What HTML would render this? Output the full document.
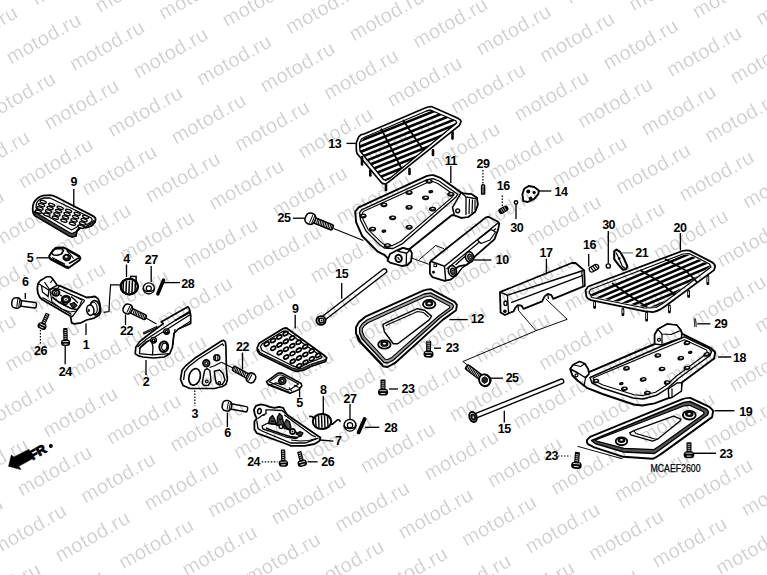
<!DOCTYPE html>
<html><head><meta charset="utf-8"><style>
html,body{margin:0;padding:0;background:#fff;}
svg{display:block;}
.lb{font-family:"Liberation Sans",sans-serif;font-weight:bold;font-size:12.5px;fill:#000;letter-spacing:-0.5px;}
.wm{font-family:"Liberation Sans",sans-serif;font-size:20px;letter-spacing:0.45px;fill:#cacaca;stroke:#fff;stroke-width:0.3px;mix-blend-mode:multiply;}
</style></head><body>
<svg width="767" height="575" viewBox="0 0 767 575">
<rect width="767" height="575" fill="#fff"/>
<path d="M32.7,208.8 C32.7,205 33.5,201 37.4,198.5 C39.5,196.5 41,195.8 43,195.6 L49.6,195.2 C52,195.4 54,196 56.2,197 L91.8,215.4 C94,216.5 95.6,217.5 95.6,219 L95.1,222 L91.8,225.7 L87,227.5 L80.6,227.6 L76.8,231.3 L75.9,236 L72.1,237 L69.3,236 L34.6,215.4 C33,214 32.7,212 32.7,208.8 Z" fill="#fff" stroke="#000" stroke-width="1.8" stroke-linejoin="round" />
<path d="M34,211.5 L69.5,232.5 L72,233.5 L75.5,232 L79,227.5 L86,226.5 L91.5,223 L94,220.5 L95.1,222 L91.8,225.7 L87,227.5 L80.6,227.6 L76.8,231.3 L75.9,236 L72.1,237 L69.3,236 L34.6,215.4 Z" fill="#444" stroke="#000" stroke-width="1.08" stroke-linejoin="round" />
<path d="M36,207 C36,203 37.5,200.5 40.5,199 L44,198 L50,198 L90.5,217.5 C92.5,218.8 92.5,220.5 91,222 L87.5,224.2 L80,225 L76,227.5 L71.5,230 L37,210 Z" fill="#fff" stroke="#000" stroke-width="1.32" stroke-linejoin="round" />
<ellipse cx="0" cy="0" rx="3.2" ry="1.3" transform="translate(43.2 201.8) rotate(19)" fill="#fff" stroke="#000" stroke-width="1.38"/>
<ellipse cx="0" cy="0" rx="3.2" ry="1.3" transform="translate(41.6 205.10000000000002) rotate(19)" fill="#fff" stroke="#000" stroke-width="1.38"/>
<ellipse cx="0" cy="0" rx="3.2" ry="1.3" transform="translate(40.0 208.4) rotate(19)" fill="#fff" stroke="#000" stroke-width="1.38"/>
<ellipse cx="0" cy="0" rx="3.2" ry="1.3" transform="translate(38.400000000000006 211.70000000000002) rotate(19)" fill="#fff" stroke="#000" stroke-width="1.38"/>
<ellipse cx="0" cy="0" rx="3.2" ry="1.3" transform="translate(51.7 204.8) rotate(19)" fill="#fff" stroke="#000" stroke-width="1.38"/>
<ellipse cx="0" cy="0" rx="3.2" ry="1.3" transform="translate(50.1 208.10000000000002) rotate(19)" fill="#fff" stroke="#000" stroke-width="1.38"/>
<ellipse cx="0" cy="0" rx="3.2" ry="1.3" transform="translate(48.5 211.4) rotate(19)" fill="#fff" stroke="#000" stroke-width="1.38"/>
<ellipse cx="0" cy="0" rx="3.2" ry="1.3" transform="translate(46.900000000000006 214.70000000000002) rotate(19)" fill="#fff" stroke="#000" stroke-width="1.38"/>
<ellipse cx="0" cy="0" rx="3.2" ry="1.3" transform="translate(60.2 207.8) rotate(19)" fill="#fff" stroke="#000" stroke-width="1.38"/>
<ellipse cx="0" cy="0" rx="3.2" ry="1.3" transform="translate(58.6 211.10000000000002) rotate(19)" fill="#fff" stroke="#000" stroke-width="1.38"/>
<ellipse cx="0" cy="0" rx="3.2" ry="1.3" transform="translate(57.0 214.4) rotate(19)" fill="#fff" stroke="#000" stroke-width="1.38"/>
<ellipse cx="0" cy="0" rx="3.2" ry="1.3" transform="translate(55.400000000000006 217.70000000000002) rotate(19)" fill="#fff" stroke="#000" stroke-width="1.38"/>
<ellipse cx="0" cy="0" rx="3.2" ry="1.3" transform="translate(68.7 210.8) rotate(19)" fill="#fff" stroke="#000" stroke-width="1.38"/>
<ellipse cx="0" cy="0" rx="3.2" ry="1.3" transform="translate(67.10000000000001 214.10000000000002) rotate(19)" fill="#fff" stroke="#000" stroke-width="1.38"/>
<ellipse cx="0" cy="0" rx="3.2" ry="1.3" transform="translate(65.5 217.4) rotate(19)" fill="#fff" stroke="#000" stroke-width="1.38"/>
<ellipse cx="0" cy="0" rx="3.2" ry="1.3" transform="translate(63.900000000000006 220.70000000000002) rotate(19)" fill="#fff" stroke="#000" stroke-width="1.38"/>
<ellipse cx="0" cy="0" rx="3.2" ry="1.3" transform="translate(77.2 213.8) rotate(19)" fill="#fff" stroke="#000" stroke-width="1.38"/>
<ellipse cx="0" cy="0" rx="3.2" ry="1.3" transform="translate(75.60000000000001 217.10000000000002) rotate(19)" fill="#fff" stroke="#000" stroke-width="1.38"/>
<ellipse cx="0" cy="0" rx="3.2" ry="1.3" transform="translate(74.0 220.4) rotate(19)" fill="#fff" stroke="#000" stroke-width="1.38"/>
<ellipse cx="0" cy="0" rx="3.2" ry="1.3" transform="translate(72.4 223.70000000000002) rotate(19)" fill="#fff" stroke="#000" stroke-width="1.38"/>
<ellipse cx="0" cy="0" rx="3.2" ry="1.3" transform="translate(85.7 216.8) rotate(19)" fill="#fff" stroke="#000" stroke-width="1.38"/>
<ellipse cx="0" cy="0" rx="3.2" ry="1.3" transform="translate(84.10000000000001 220.10000000000002) rotate(19)" fill="#fff" stroke="#000" stroke-width="1.38"/>
<ellipse cx="0" cy="0" rx="3.2" ry="1.3" transform="translate(82.5 223.4) rotate(19)" fill="#fff" stroke="#000" stroke-width="1.38"/>
<ellipse cx="0" cy="0" rx="3.2" ry="1.3" transform="translate(80.9 226.70000000000002) rotate(19)" fill="#fff" stroke="#000" stroke-width="1.38"/>
<line x1="73.8" y1="189" x2="73.8" y2="207.5" stroke="#000" stroke-width="1.32"/>
<text x="73.8" y="185.8" text-anchor="middle" class="lb">9</text>
<path d="M49.2,256.1 L52.9,250.3 L56,247.7 L63.3,247.5 L66.4,248.8 L79.4,256.1 L80.5,258.1 L79.4,260.2 L68.5,268 L65.9,267.5 L50.3,259.2 Z" fill="#fff" stroke="#000" stroke-width="1.92" stroke-linejoin="round" />
<path d="M51.5,253 L54.5,249.5 L57,248.8 L62,248.8 L63.5,250.5 L61.5,254 L57.5,255.3 L53.5,255 Z" fill="#fff" stroke="#000" stroke-width="1.56" stroke-linejoin="round" />
<path d="M53.5,251.5 L56,250 L59.5,250.2 L58,252.6 L55,252.8 Z" fill="#fff" stroke="#000" stroke-width="0.0" stroke-linejoin="round" />
<ellipse cx="0" cy="0" rx="3.6" ry="3.0" transform="translate(66.8 257.6) rotate(0)" fill="#222" stroke="#000" stroke-width="1.56"/>
<ellipse cx="0" cy="0" rx="1.3" ry="1.0" transform="translate(66.3 256.8) rotate(0)" fill="#fff" stroke="#000" stroke-width="0.0"/>
<polyline points="50.5,258.5 66,266.5 68.5,266.6" fill="none" stroke="#000" stroke-width="1.56"/>
<polyline points="52,257.5 65,264.3" fill="none" stroke="#000" stroke-width="1.32"/>
<polyline points="55.5,259.8 63,263.5" fill="none" stroke="#000" stroke-width="1.2"/>
<polyline points="66,249.5 79,257" fill="none" stroke="#000" stroke-width="1.32"/>
<polyline points="69,263.5 79.5,257.5" fill="none" stroke="#000" stroke-width="1.44"/>
<polyline points="67,251 70,254 73.5,258.5" fill="none" stroke="#000" stroke-width="1.2"/>
<line x1="36.5" y1="257.8" x2="49.5" y2="257.8" stroke="#000" stroke-width="1.32"/>
<text x="30" y="261.6" text-anchor="middle" class="lb">5</text>
<rect x="130.7" y="276.4" width="5.4" height="5.2" fill="#fff" stroke="#000" stroke-width="1.5"/>
<ellipse cx="0" cy="0" rx="8.6" ry="7.8" transform="translate(129.3 286.6) rotate(0)" fill="#fff" stroke="#000" stroke-width="2.04"/>
<line x1="123.5" y1="280.5" x2="122.9" y2="293" stroke="#000" stroke-width="1.5"/>
<line x1="126.5" y1="280.5" x2="125.9" y2="293" stroke="#000" stroke-width="1.5"/>
<line x1="129.5" y1="280.5" x2="128.9" y2="293" stroke="#000" stroke-width="1.5"/>
<line x1="132.5" y1="280.5" x2="131.9" y2="293" stroke="#000" stroke-width="1.5"/>
<line x1="135.5" y1="280.5" x2="134.9" y2="293" stroke="#000" stroke-width="1.5"/>
<ellipse cx="0" cy="0" rx="8.6" ry="7.8" transform="translate(129.3 286.6) rotate(0)" fill="none" stroke="#000" stroke-width="2.04"/>
<line x1="126.5" y1="264.5" x2="126.5" y2="277" stroke="#000" stroke-width="1.32"/>
<text x="126.5" y="262.8" text-anchor="middle" class="lb">4</text>
<polyline points="120,284.9 110.6,284.9 109.5,300 109,311.5 103.6,312.3" fill="none" stroke="#000" stroke-width="1.2"/>
<circle cx="148.8" cy="288.4" r="5.6" fill="#fff" stroke="#000" stroke-width="1.32"/>
<circle cx="148.8" cy="288.4" r="2.52" fill="#fff" stroke="#000" stroke-width="1.2"/>
<path d="M143.20000000000002,288.4 a5.6,3.08 0 0 0 11.2,0" fill="none" stroke="#000" stroke-width="1.6"/>
<line x1="151.2" y1="266" x2="151.2" y2="282" stroke="#000" stroke-width="1.32"/>
<text x="151.2" y="264.2" text-anchor="middle" class="lb">27</text>
<line x1="157.8" y1="294" x2="163.6" y2="280" stroke="#000" stroke-width="3.4" stroke-linecap="round"/>
<line x1="164" y1="282.6" x2="180" y2="282.6" stroke="#000" stroke-width="1.32"/>
<text x="187.7" y="287.7" text-anchor="middle" class="lb">28</text>
<g transform="translate(17.00 303.00) rotate(7.3)"><rect x="3.1" y="-2.75" width="16.4" height="5.5" rx="1.5" fill="#fff" stroke="#000" stroke-width="1.5"/><rect x="-5.2" y="-5.2" width="9.4" height="10.4" rx="4.2" fill="#fff" stroke="#000" stroke-width="1.6"/><line x1="0.3" y1="-3.9" x2="0.3" y2="3.9" stroke="#000" stroke-width="1.0"/><line x1="2.3" y1="-4.2" x2="2.3" y2="4.2" stroke="#000" stroke-width="1.0"/></g>
<line x1="25.3" y1="293" x2="25.3" y2="299" stroke="#000" stroke-width="1.32"/>
<text x="25.3" y="286.40000000000003" text-anchor="middle" class="lb">6</text>
<path d="M37.3,288.1 L38.2,283.4 L40.6,280.6 L47.1,276.8 L50.4,276.8 L52.8,279.2 L57,285.3 L59.4,285.7 L86.6,297.5 L91.3,297 L95,296.5 L97.8,298.4 C99.5,301 100.5,306 100.7,311.6 C100,313.5 99.5,314.5 98.8,315.3 L94.1,318.1 L86.6,320 L81,322.8 L74.4,323.8 L71.6,322.8 L70.6,316.3 L42.5,299.8 L39.6,297 L37.8,292.8 Z" fill="#fff" stroke="#000" stroke-width="1.8" stroke-linejoin="round" />
<path d="M38.2,283.4 L40.6,280.6 L47.1,276.8 L50.4,276.8 L52.8,279.2 L57,285.3 L48.5,290 L41.5,285.5 Z" fill="#fff" stroke="#000" stroke-width="1.32" stroke-linejoin="round" />
<polyline points="41.5,285.5 42.5,292 48,296.5 49,290" fill="none" stroke="#000" stroke-width="1.32"/>
<polyline points="44.5,282.2 49.5,289.5" fill="none" stroke="#000" stroke-width="1.2"/>
<polyline points="52.8,279.2 50.5,283" fill="none" stroke="#000" stroke-width="1.08"/>
<polyline points="42.5,297.5 71.5,314.5" fill="none" stroke="#000" stroke-width="1.2"/>
<polyline points="59.4,285.7 57.5,289 84.7,300.3" fill="none" stroke="#000" stroke-width="1.2"/>
<polyline points="84.7,300.3 72.5,316.3 70.6,316.3" fill="none" stroke="#000" stroke-width="1.32"/>
<path d="M50,290 L54,288 L60,289.5 L74,296 L82,300 L80,305 L76,311 L70,312 L62,309 L52,302 Z" fill="#fff" stroke="#000" stroke-width="1.2" stroke-linejoin="round" />
<ellipse cx="0" cy="0" rx="3.6" ry="3.0" transform="translate(55.8 292.8) rotate(0)" fill="#fff" stroke="#000" stroke-width="1.92"/>
<circle cx="55.8" cy="292.8" r="1.3" fill="#fff" stroke="#000" stroke-width="1.2"/>
<ellipse cx="0" cy="0" rx="4.4" ry="3.6" transform="translate(66 299.4) rotate(0)" fill="#222" stroke="#000" stroke-width="1.56"/>
<ellipse cx="0" cy="0" rx="2.0" ry="1.5" transform="translate(66 299.2) rotate(0)" fill="#fff" stroke="#000" stroke-width="0.0"/>
<circle cx="66" cy="299.2" r="0.8" fill="#000" stroke="#000" stroke-width="0.0"/>
<polyline points="52,297 58,301.5 64,305 71,308.5 77,309.5" fill="none" stroke="#000" stroke-width="1.68"/>
<polyline points="60,295 62,296" fill="none" stroke="#000" stroke-width="1.2"/>
<polyline points="71,296.5 75,300 78,303" fill="none" stroke="#000" stroke-width="1.44"/>
<polyline points="58.5,303 62,301.5 65,305 68,303.5" fill="none" stroke="#000" stroke-width="1.32"/>
<path d="M70,304 L74,302.5 L77,305.5 L73,308.5 Z" fill="#333" stroke="#000" stroke-width="1.2" stroke-linejoin="round" />
<ellipse cx="0" cy="0" rx="4.8" ry="7.2" transform="translate(95 307.8) rotate(-8)" fill="#fff" stroke="#000" stroke-width="1.68"/>
<ellipse cx="0" cy="0" rx="3.2" ry="5.8" transform="translate(94 308) rotate(-8)" fill="#fff" stroke="#000" stroke-width="1.08"/>
<ellipse cx="0" cy="0" rx="3.6" ry="5.2" transform="translate(90.3 310.2) rotate(-8)" fill="#fff" stroke="#000" stroke-width="1.56"/>
<path d="M88.2,308.8 L88.2,312.3 C90.5,312.3 90.5,308.8 88.2,308.8 Z" fill="#000"/>
<line x1="86" y1="323.5" x2="86" y2="335" stroke="#000" stroke-width="1.32"/>
<text x="86" y="348.5" text-anchor="middle" class="lb">1</text>
<g transform="translate(42.50 325.20) rotate(-65.6)"><rect x="1" y="-2.2" width="11.844454056128649" height="4.4" rx="0.8" fill="#000"/><line x1="3.2" y1="-1.1" x2="3.2" y2="1.1" stroke="#fff" stroke-width="0.75"/><line x1="5.2" y1="-1.1" x2="5.2" y2="1.1" stroke="#fff" stroke-width="0.75"/><line x1="7.2" y1="-1.1" x2="7.2" y2="1.1" stroke="#fff" stroke-width="0.75"/><line x1="9.2" y1="-1.1" x2="9.2" y2="1.1" stroke="#fff" stroke-width="0.75"/><line x1="11.2" y1="-1.1" x2="11.2" y2="1.1" stroke="#fff" stroke-width="0.75"/><rect x="-4.2" y="-4.6" width="6.4" height="9.1" rx="3.0" fill="#000"/><line x1="0.3" y1="-3.0" x2="0.3" y2="3.0" stroke="#fff" stroke-width="0.8"/><line x1="-2.3" y1="-2.1" x2="-2.3" y2="2.1" stroke="#fff" stroke-width="0.9"/></g>
<line x1="40.4" y1="330" x2="40.4" y2="343.5" stroke="#000" stroke-width="1.2" stroke-dasharray="1.5 1.5"/>
<text x="40.4" y="355.1" text-anchor="middle" class="lb">26</text>
<g transform="translate(65.60 341.80) rotate(-91.2)"><rect x="1" y="-2.2" width="12.80326048439282" height="4.4" rx="0.8" fill="#000"/><line x1="3.2" y1="-1.1" x2="3.2" y2="1.1" stroke="#fff" stroke-width="0.75"/><line x1="5.2" y1="-1.1" x2="5.2" y2="1.1" stroke="#fff" stroke-width="0.75"/><line x1="7.2" y1="-1.1" x2="7.2" y2="1.1" stroke="#fff" stroke-width="0.75"/><line x1="9.2" y1="-1.1" x2="9.2" y2="1.1" stroke="#fff" stroke-width="0.75"/><line x1="11.2" y1="-1.1" x2="11.2" y2="1.1" stroke="#fff" stroke-width="0.75"/><rect x="-4.2" y="-4.6" width="6.4" height="9.1" rx="3.0" fill="#000"/><line x1="0.3" y1="-3.0" x2="0.3" y2="3.0" stroke="#fff" stroke-width="0.8"/><line x1="-2.3" y1="-2.1" x2="-2.3" y2="2.1" stroke="#fff" stroke-width="0.9"/></g>
<line x1="65.2" y1="346" x2="65.2" y2="364.3" stroke="#000" stroke-width="1.32"/>
<text x="65.2" y="376.40000000000003" text-anchor="middle" class="lb">24</text>
<g transform="translate(128.20 309.20) rotate(25.8)"><rect x="2.9" y="-2.5" width="16.8" height="5" rx="1.5" fill="#fff" stroke="#000" stroke-width="1.5"/><line x1="5.9" y1="-2.0" x2="6.5" y2="2.0" stroke="#000" stroke-width="1.05"/><line x1="7.7" y1="-2.0" x2="8.3" y2="2.0" stroke="#000" stroke-width="1.05"/><line x1="9.4" y1="-2.0" x2="10.0" y2="2.0" stroke="#000" stroke-width="1.05"/><line x1="11.2" y1="-2.0" x2="11.8" y2="2.0" stroke="#000" stroke-width="1.05"/><line x1="12.9" y1="-2.0" x2="13.5" y2="2.0" stroke="#000" stroke-width="1.05"/><line x1="14.7" y1="-2.0" x2="15.3" y2="2.0" stroke="#000" stroke-width="1.05"/><line x1="16.4" y1="-2.0" x2="17.0" y2="2.0" stroke="#000" stroke-width="1.05"/><line x1="18.2" y1="-2.0" x2="18.8" y2="2.0" stroke="#000" stroke-width="1.05"/><rect x="-4.9" y="-4.9" width="8.8" height="9.8" rx="3.9" fill="#fff" stroke="#000" stroke-width="1.6"/><line x1="0.2" y1="-3.7" x2="0.2" y2="3.7" stroke="#000" stroke-width="1.0"/><line x1="2.2" y1="-3.9" x2="2.2" y2="3.9" stroke="#000" stroke-width="1.0"/></g>
<line x1="146" y1="318" x2="156.5" y2="324" stroke="#000" stroke-width="1.08"/>
<line x1="125.5" y1="314.5" x2="125.5" y2="325" stroke="#000" stroke-width="1.32"/>
<text x="126.5" y="334.8" text-anchor="middle" class="lb">22</text>
<path d="M135.2,353.7 L135.8,347.3 L139.5,341.9 L146,336.5 L163.3,323.6 L161.1,321.9 L177.3,312.8 L188,306.8 L189.2,308.5 L190.7,314.9 L190.7,323.6 L178.3,329 L174,333.3 L172.4,347.3 L169.7,353.7 L164.3,357 L153.6,358 L142.8,357 L138.5,355.9 Z" fill="#fff" stroke="#000" stroke-width="1.68" stroke-linejoin="round" />
<path d="M139.5,353.7 L140.1,347.3 L146,341.9 L151.4,339.7 L153,347.3 L152.5,354.8 Z" fill="#fff" stroke="#000" stroke-width="1.32" stroke-linejoin="round" />
<polyline points="137.5,347 146,339.5 165,327 190,311" fill="none" stroke="#000" stroke-width="1.32"/>
<polyline points="139,349 147,342 166,330 190.5,314.5" fill="none" stroke="#000" stroke-width="1.32"/>
<polyline points="175,320.5 190.5,312" fill="none" stroke="#000" stroke-width="1.92"/>
<polyline points="178.3,329 190.7,321" fill="none" stroke="#000" stroke-width="1.2"/>
<polygon points="143.5,332.7 156.8,326.6 157.3,327.8 144,334" fill="#fff" stroke="#000" stroke-width="1.1"/>
<ellipse cx="0" cy="0" rx="4.4" ry="5.3" transform="translate(163.8 346.8) rotate(10)" fill="#fff" stroke="#000" stroke-width="2.04"/>
<ellipse cx="0" cy="0" rx="2.6" ry="3.6" transform="translate(164.3 346.8) rotate(10)" fill="#fff" stroke="#000" stroke-width="1.2"/>
<circle cx="153.6" cy="340.3" r="2.8" fill="#fff" stroke="#000" stroke-width="1.32"/>
<circle cx="153.6" cy="340.3" r="1.26" fill="#fff" stroke="#000" stroke-width="1.2"/>
<path d="M150.79999999999998,340.3 a2.8,1.54 0 0 0 5.6,0" fill="none" stroke="#000" stroke-width="1.6"/>
<circle cx="166.5" cy="331.6" r="2.8" fill="#fff" stroke="#000" stroke-width="1.32"/>
<circle cx="166.5" cy="331.6" r="1.26" fill="#fff" stroke="#000" stroke-width="1.2"/>
<path d="M163.7,331.6 a2.8,1.54 0 0 0 5.6,0" fill="none" stroke="#000" stroke-width="1.6"/>
<polyline points="175.1,329 173.6,337 172.9,345.1" fill="none" stroke="#000" stroke-width="1.2"/>
<polyline points="152.5,354.8 169.7,353.7" fill="none" stroke="#000" stroke-width="1.2"/>
<line x1="146" y1="360" x2="146" y2="375" stroke="#000" stroke-width="1.32"/>
<text x="146.1" y="386.40000000000003" text-anchor="middle" class="lb">2</text>
<path d="M180.5,379.4 L182,370.3 L186.1,365.3 L196.2,357.2 L221.4,341 C222.3,340.5 223.2,340.3 223.9,340.5 L225.4,342.1 L225.9,346.1 L226.4,369.3 L227.4,379.4 L225.9,384.4 L222.4,386.5 L214.3,388.5 L190.1,388.5 L183,385.4 Z" fill="#fff" stroke="#000" stroke-width="1.68" stroke-linejoin="round" />
<polyline points="183.6,380 184.8,371.5 188.5,366.8 198,359.2 222.5,343.8 224,346" fill="none" stroke="#000" stroke-width="1.32"/>
<ellipse cx="0" cy="0" rx="5.6" ry="8.4" transform="translate(194.6 376.9) rotate(15)" fill="#fff" stroke="#000" stroke-width="1.68"/>
<path d="M204.7,370.3 L203.5,376 L202.2,383.4 L204,385.5 L208.3,385.4 L211,381 L210.5,376 L209.8,370.5 L207,368.5 Z" fill="#fff" stroke="#000" stroke-width="1.44" stroke-linejoin="round" />
<path d="M214.3,371.3 L215,377 L216.3,383.4 L219,385 L222.4,384.4 L225,380 L223,373.5 L219.5,370 Z" fill="#fff" stroke="#000" stroke-width="1.44" stroke-linejoin="round" />
<circle cx="206.8" cy="381.4" r="1.3" fill="#fff" stroke="#000" stroke-width="1.2"/>
<circle cx="219.4" cy="382.9" r="1.3" fill="#fff" stroke="#000" stroke-width="1.2"/>
<circle cx="206.3" cy="363.2" r="3.4" fill="#555" stroke="#000" stroke-width="1.56"/>
<circle cx="206.3" cy="363.2" r="1.3" fill="#fff" stroke="#000" stroke-width="0.96"/>
<circle cx="216.8" cy="357.7" r="3.0" fill="#fff" stroke="#000" stroke-width="1.56"/>
<polyline points="215.6,355.5 215.6,360" fill="none" stroke="#000" stroke-width="1.08"/>
<polyline points="217.8,355 217.8,360" fill="none" stroke="#000" stroke-width="1.08"/>
<polyline points="209.5,367.5 214,366 221.4,362.2" fill="none" stroke="#000" stroke-width="1.2"/>
<line x1="194.8" y1="390.5" x2="194.8" y2="406" stroke="#000" stroke-width="1.2" stroke-dasharray="1.5 1.5"/>
<text x="194.8" y="418.40000000000003" text-anchor="middle" class="lb">3</text>
<g transform="translate(250.50 377.60) rotate(-151.3)"><rect x="2.9" y="-2.5" width="17.0" height="5" rx="1.5" fill="#fff" stroke="#000" stroke-width="1.5"/><line x1="5.9" y1="-2.0" x2="6.5" y2="2.0" stroke="#000" stroke-width="1.05"/><line x1="7.7" y1="-2.0" x2="8.3" y2="2.0" stroke="#000" stroke-width="1.05"/><line x1="9.4" y1="-2.0" x2="10.0" y2="2.0" stroke="#000" stroke-width="1.05"/><line x1="11.2" y1="-2.0" x2="11.8" y2="2.0" stroke="#000" stroke-width="1.05"/><line x1="12.9" y1="-2.0" x2="13.5" y2="2.0" stroke="#000" stroke-width="1.05"/><line x1="14.7" y1="-2.0" x2="15.3" y2="2.0" stroke="#000" stroke-width="1.05"/><line x1="16.4" y1="-2.0" x2="17.0" y2="2.0" stroke="#000" stroke-width="1.05"/><line x1="18.2" y1="-2.0" x2="18.8" y2="2.0" stroke="#000" stroke-width="1.05"/><rect x="-4.9" y="-4.9" width="8.8" height="9.8" rx="3.9" fill="#fff" stroke="#000" stroke-width="1.6"/><line x1="0.2" y1="-3.7" x2="0.2" y2="3.7" stroke="#000" stroke-width="1.0"/><line x1="2.2" y1="-3.9" x2="2.2" y2="3.9" stroke="#000" stroke-width="1.0"/></g>
<polyline points="233,368 221.4,362.2" fill="none" stroke="#000" stroke-width="1.08"/>
<line x1="242.5" y1="352.6" x2="242.5" y2="369.5" stroke="#000" stroke-width="1.32"/>
<text x="242.5" y="350.6" text-anchor="middle" class="lb">22</text>
<path d="M257.3,347.5 L259.1,343.3 L282.9,328.7 C284,328.2 285.5,328 286.5,328 L324.3,355.5 L326.7,357.9 L325.5,361.5 L310.9,366.4 L303.6,370.1 L296.3,371.3 L292.6,370.1 L259.7,354.2 L257.3,350.6 Z" fill="#fff" stroke="#000" stroke-width="1.8" stroke-linejoin="round" />
<path d="M258,349 L260,352.5 L292.6,368 L296.3,369 L303,368 L310.5,364.3 L325.5,359.5 L326.7,357.9 L325.5,361.5 L310.9,366.4 L303.6,370.1 L296.3,371.3 L292.6,370.1 L259.7,354.2 Z" fill="#444" stroke="#000" stroke-width="0.96" stroke-linejoin="round" />
<path d="M260.5,346.5 L262,344 L282.5,331.5 L285.5,331 L322,356.8 L321,358.2 L309.5,362.5 L302.5,366 L296,367 L293,366 L262,350.5 Z" fill="#fff" stroke="#000" stroke-width="1.32" stroke-linejoin="round" />
<ellipse cx="0" cy="0" rx="2.7" ry="1.7" transform="translate(285.6 333.6) rotate(-30)" fill="#fff" stroke="#000" stroke-width="1.8"/>
<ellipse cx="0" cy="0" rx="2.7" ry="1.7" transform="translate(279.3 337.05) rotate(-30)" fill="#fff" stroke="#000" stroke-width="1.8"/>
<ellipse cx="0" cy="0" rx="2.7" ry="1.7" transform="translate(273.0 340.5) rotate(-30)" fill="#fff" stroke="#000" stroke-width="1.8"/>
<ellipse cx="0" cy="0" rx="2.7" ry="1.7" transform="translate(266.70000000000005 343.95000000000005) rotate(-30)" fill="#fff" stroke="#000" stroke-width="1.8"/>
<ellipse cx="0" cy="0" rx="2.7" ry="1.7" transform="translate(292.1 337.95000000000005) rotate(-30)" fill="#fff" stroke="#000" stroke-width="1.8"/>
<ellipse cx="0" cy="0" rx="2.7" ry="1.7" transform="translate(285.8 341.40000000000003) rotate(-30)" fill="#fff" stroke="#000" stroke-width="1.8"/>
<ellipse cx="0" cy="0" rx="2.7" ry="1.7" transform="translate(279.5 344.85) rotate(-30)" fill="#fff" stroke="#000" stroke-width="1.8"/>
<ellipse cx="0" cy="0" rx="2.7" ry="1.7" transform="translate(273.20000000000005 348.30000000000007) rotate(-30)" fill="#fff" stroke="#000" stroke-width="1.8"/>
<ellipse cx="0" cy="0" rx="2.7" ry="1.7" transform="translate(298.6 342.3) rotate(-30)" fill="#fff" stroke="#000" stroke-width="1.8"/>
<ellipse cx="0" cy="0" rx="2.7" ry="1.7" transform="translate(292.3 345.75) rotate(-30)" fill="#fff" stroke="#000" stroke-width="1.8"/>
<ellipse cx="0" cy="0" rx="2.7" ry="1.7" transform="translate(286.0 349.2) rotate(-30)" fill="#fff" stroke="#000" stroke-width="1.8"/>
<ellipse cx="0" cy="0" rx="2.7" ry="1.7" transform="translate(279.70000000000005 352.65000000000003) rotate(-30)" fill="#fff" stroke="#000" stroke-width="1.8"/>
<ellipse cx="0" cy="0" rx="2.7" ry="1.7" transform="translate(305.1 346.65000000000003) rotate(-30)" fill="#fff" stroke="#000" stroke-width="1.8"/>
<ellipse cx="0" cy="0" rx="2.7" ry="1.7" transform="translate(298.8 350.1) rotate(-30)" fill="#fff" stroke="#000" stroke-width="1.8"/>
<ellipse cx="0" cy="0" rx="2.7" ry="1.7" transform="translate(292.5 353.55) rotate(-30)" fill="#fff" stroke="#000" stroke-width="1.8"/>
<ellipse cx="0" cy="0" rx="2.7" ry="1.7" transform="translate(286.20000000000005 357.00000000000006) rotate(-30)" fill="#fff" stroke="#000" stroke-width="1.8"/>
<ellipse cx="0" cy="0" rx="2.7" ry="1.7" transform="translate(311.6 351.0) rotate(-30)" fill="#fff" stroke="#000" stroke-width="1.8"/>
<ellipse cx="0" cy="0" rx="2.7" ry="1.7" transform="translate(305.3 354.45) rotate(-30)" fill="#fff" stroke="#000" stroke-width="1.8"/>
<ellipse cx="0" cy="0" rx="2.7" ry="1.7" transform="translate(299.0 357.9) rotate(-30)" fill="#fff" stroke="#000" stroke-width="1.8"/>
<ellipse cx="0" cy="0" rx="2.7" ry="1.7" transform="translate(292.70000000000005 361.35) rotate(-30)" fill="#fff" stroke="#000" stroke-width="1.8"/>
<ellipse cx="0" cy="0" rx="2.7" ry="1.7" transform="translate(318.1 355.35) rotate(-30)" fill="#fff" stroke="#000" stroke-width="1.8"/>
<ellipse cx="0" cy="0" rx="2.7" ry="1.7" transform="translate(311.8 358.8) rotate(-30)" fill="#fff" stroke="#000" stroke-width="1.8"/>
<ellipse cx="0" cy="0" rx="2.7" ry="1.7" transform="translate(305.5 362.25) rotate(-30)" fill="#fff" stroke="#000" stroke-width="1.8"/>
<ellipse cx="0" cy="0" rx="2.7" ry="1.7" transform="translate(299.20000000000005 365.70000000000005) rotate(-30)" fill="#fff" stroke="#000" stroke-width="1.8"/>
<line x1="295.2" y1="314.8" x2="295.2" y2="328.5" stroke="#000" stroke-width="1.32"/>
<text x="295.2" y="313.40000000000003" text-anchor="middle" class="lb">9</text>
<path d="M266.4,381.6 L278,373.1 L282.3,373.1 L301.2,383.5 L301.8,385.9 L298.7,389.6 L290.2,393.2 L268.3,384.7 Z" fill="#fff" stroke="#000" stroke-width="1.56" stroke-linejoin="round" />
<path d="M269,381.8 L278.5,375 L282,375 L298.5,384 L291,389 L288,390 Z" fill="#fff" stroke="#000" stroke-width="1.2" stroke-linejoin="round" />
<circle cx="282.3" cy="380.8" r="3.6" fill="#333" stroke="#000" stroke-width="1.44"/>
<circle cx="282.3" cy="380.8" r="1.4" fill="#fff" stroke="#000" stroke-width="0.96"/>
<polyline points="267.5,384 289.5,392.5" fill="none" stroke="#000" stroke-width="1.44"/>
<polyline points="270,384.8 276,383 282,385" fill="none" stroke="#000" stroke-width="1.2"/>
<polyline points="289,387.5 292,391.5" fill="none" stroke="#000" stroke-width="1.2"/>
<polyline points="294,385 298.5,387.5" fill="none" stroke="#000" stroke-width="1.2"/>
<line x1="299.6" y1="387" x2="299.6" y2="397.5" stroke="#000" stroke-width="1.32"/>
<text x="299.6" y="407.2" text-anchor="middle" class="lb">5</text>
<g transform="translate(227.50 405.80) rotate(10.5)"><rect x="3.1" y="-2.65" width="17.2" height="5.3" rx="1.5" fill="#fff" stroke="#000" stroke-width="1.5"/><rect x="-5.2" y="-5.2" width="9.4" height="10.4" rx="4.2" fill="#fff" stroke="#000" stroke-width="1.6"/><line x1="0.3" y1="-3.9" x2="0.3" y2="3.9" stroke="#000" stroke-width="1.0"/><line x1="2.3" y1="-4.2" x2="2.3" y2="4.2" stroke="#000" stroke-width="1.0"/></g>
<line x1="227.4" y1="412.6" x2="227.4" y2="427" stroke="#000" stroke-width="1.32"/>
<text x="227.4" y="437.2" text-anchor="middle" class="lb">6</text>
<path d="M253.9,409.8 L255.9,405.9 L260.8,404.4 L265.6,405.4 L269.6,406.8 L274.4,407.8 L279.3,406.8 L283.2,407.8 L285.2,411.7 L287.1,414.7 L318.4,436.2 L320.4,437.6 L319.4,441.1 L314.5,444 L304.7,445.9 L291,445.9 L289.1,445 L256.8,433.2 L254.4,429.3 L254.4,421.5 L256.8,418.6 L254.9,414.7 Z" fill="#fff" stroke="#000" stroke-width="1.8" stroke-linejoin="round" />
<ellipse cx="0" cy="0" rx="1.8" ry="2.6" transform="translate(259.4 411.2) rotate(10)" fill="#fff" stroke="#000" stroke-width="1.56"/>
<polyline points="256.8,420.5 258,428.5 262,431 291,443 305,443 318.4,438.1" fill="none" stroke="#000" stroke-width="1.32"/>
<polyline points="258,418.5 262,415.5 266,413.5 266,409.8 269.6,409.8 282,410.5 286.2,414" fill="none" stroke="#000" stroke-width="1.32"/>
<polyline points="284.2,414.7 312.6,435.7 316,437" fill="none" stroke="#000" stroke-width="1.32"/>
<polyline points="262,415.5 265,415" fill="none" stroke="#000" stroke-width="1.2"/>
<path d="M262,426 L268,423 L274,424 L284,428 L296,432 L300,436 L296,438.5 L286,437 L272,432 L263,429 Z" fill="#fff" stroke="#000" stroke-width="1.32" stroke-linejoin="round" />
<path d="M268.5,423.5 L270,418 L272.5,415.5 L274.5,419 L276.5,424.5 Z" fill="#444" stroke="#000" stroke-width="1.32" stroke-linejoin="round" />
<path d="M277,425 L277.5,417 L279.5,413.5 L282,416 L283,421 L285.5,427 Z" fill="#444" stroke="#000" stroke-width="1.32" stroke-linejoin="round" />
<path d="M284,424 L286.5,419.5 L289.5,422 L291,427.5 L288,429 Z" fill="#555" stroke="#000" stroke-width="1.32" stroke-linejoin="round" />
<circle cx="292.5" cy="431.5" r="2.6" fill="#fff" stroke="#000" stroke-width="1.56"/>
<circle cx="292.5" cy="431.5" r="1.0" fill="#000" stroke="#000" stroke-width="0.0"/>
<circle cx="281" cy="426.5" r="1.9" fill="#fff" stroke="#000" stroke-width="1.32"/>
<polyline points="266,428 272,430.5 282,434 290,436.5 298,437.5" fill="none" stroke="#000" stroke-width="1.56"/>
<polyline points="271,421 274,421.5" fill="none" stroke="#000" stroke-width="1.08"/>
<polyline points="279,419 281.5,419.5" fill="none" stroke="#000" stroke-width="1.08"/>
<polyline points="291,440 300,441 309,440.5 316,438.5" fill="none" stroke="#000" stroke-width="1.2"/>
<path d="M296,434 L300,431.5 L303,433 L301,436.5 Z" fill="#333" stroke="#000" stroke-width="1.2" stroke-linejoin="round" />
<line x1="320" y1="440" x2="333.4" y2="441.1" stroke="#000" stroke-width="1.32"/>
<text x="338.3" y="444.90000000000003" text-anchor="middle" class="lb">7</text>
<polyline points="309.1,416.4 312,416.5 315,419" fill="none" stroke="#000" stroke-width="1.68"/>
<path d="M329,424 C332,426 334,423 336.5,420.5 C338.5,419 340.5,420 340,422" fill="none" stroke="#000" stroke-width="1.6"/>
<ellipse cx="0" cy="0" rx="9.2" ry="7.6" transform="translate(322 421.5) rotate(0)" fill="#fff" stroke="#000" stroke-width="2.04"/>
<line x1="315.5" y1="416.5" x2="316.0" y2="426.5" stroke="#000" stroke-width="1.4"/>
<line x1="318.5" y1="415.2" x2="319.0" y2="427.8" stroke="#000" stroke-width="1.4"/>
<line x1="321.5" y1="415.2" x2="322.0" y2="427.8" stroke="#000" stroke-width="1.4"/>
<line x1="324.5" y1="415.2" x2="325.0" y2="427.8" stroke="#000" stroke-width="1.4"/>
<line x1="327.5" y1="416.5" x2="328.0" y2="426.5" stroke="#000" stroke-width="1.4"/>
<line x1="323.3" y1="396" x2="323.3" y2="414" stroke="#000" stroke-width="1.32"/>
<text x="323.3" y="394.2" text-anchor="middle" class="lb">8</text>
<circle cx="350" cy="425.2" r="5.9" fill="#fff" stroke="#000" stroke-width="1.32"/>
<circle cx="350" cy="425.2" r="2.6550000000000002" fill="#fff" stroke="#000" stroke-width="1.2"/>
<path d="M344.1,425.2 a5.9,3.2450000000000006 0 0 0 11.8,0" fill="none" stroke="#000" stroke-width="1.6"/>
<line x1="350" y1="404" x2="350" y2="419" stroke="#000" stroke-width="1.32"/>
<text x="350" y="402.8" text-anchor="middle" class="lb">27</text>
<line x1="358.6" y1="432.4" x2="364.6" y2="418.9" stroke="#000" stroke-width="3.8" stroke-linecap="round"/>
<line x1="365" y1="427.3" x2="379.3" y2="427.3" stroke="#000" stroke-width="1.32"/>
<text x="390.8" y="432.0" text-anchor="middle" class="lb">28</text>
<g transform="translate(283.40 462.50) rotate(-91.8)"><rect x="1" y="-2.2" width="12.006152390311286" height="4.4" rx="0.8" fill="#000"/><line x1="3.2" y1="-1.1" x2="3.2" y2="1.1" stroke="#fff" stroke-width="0.75"/><line x1="5.2" y1="-1.1" x2="5.2" y2="1.1" stroke="#fff" stroke-width="0.75"/><line x1="7.2" y1="-1.1" x2="7.2" y2="1.1" stroke="#fff" stroke-width="0.75"/><line x1="9.2" y1="-1.1" x2="9.2" y2="1.1" stroke="#fff" stroke-width="0.75"/><line x1="11.2" y1="-1.1" x2="11.2" y2="1.1" stroke="#fff" stroke-width="0.75"/><rect x="-4.3" y="-4.7" width="6.5" height="9.4" rx="3.1" fill="#000"/><line x1="0.3" y1="-3.1" x2="0.3" y2="3.1" stroke="#fff" stroke-width="0.8"/><line x1="-2.3" y1="-2.1" x2="-2.3" y2="2.1" stroke="#fff" stroke-width="0.9"/></g>
<line x1="261.7" y1="461.8" x2="277.5" y2="461.8" stroke="#000" stroke-width="1.2" stroke-dasharray="1.5 1.5"/>
<text x="253.6" y="466.1" text-anchor="middle" class="lb">24</text>
<g transform="translate(302.00 462.30) rotate(-104.5)"><rect x="1" y="-2.2" width="10.157060544785097" height="4.4" rx="0.8" fill="#000"/><line x1="3.2" y1="-1.1" x2="3.2" y2="1.1" stroke="#fff" stroke-width="0.75"/><line x1="5.2" y1="-1.1" x2="5.2" y2="1.1" stroke="#fff" stroke-width="0.75"/><line x1="7.2" y1="-1.1" x2="7.2" y2="1.1" stroke="#fff" stroke-width="0.75"/><line x1="9.2" y1="-1.1" x2="9.2" y2="1.1" stroke="#fff" stroke-width="0.75"/><rect x="-4.3" y="-4.7" width="6.5" height="9.4" rx="3.1" fill="#000"/><line x1="0.3" y1="-3.1" x2="0.3" y2="3.1" stroke="#fff" stroke-width="0.8"/><line x1="-2.3" y1="-2.1" x2="-2.3" y2="2.1" stroke="#fff" stroke-width="0.9"/></g>
<line x1="307.6" y1="461.8" x2="317.6" y2="461.8" stroke="#000" stroke-width="1.32"/>
<text x="327.7" y="466.1" text-anchor="middle" class="lb">26</text>
<path d="M8.6,466.3 L11.4,455 L13.9,457.1 L29,449.4 L33.2,458.2 L18.8,466.3 L20.9,469.5 Z" fill="#000" stroke="#000" stroke-width="0.6" stroke-linejoin="round"/>
<text x="0" y="0" transform="translate(32.4 460.2) rotate(-30)" style="font-family:Liberation Sans,sans-serif;font-weight:bold;font-size:13px;fill:#000;stroke:#000;stroke-width:1px">FR</text>
<circle cx="50.8" cy="445.9" r="2.0" fill="#000" stroke="#000" stroke-width="0.0"/>
<path d="M356.3,142.6 L358.6,137.1 C360,135 362,134 364.1,134 L425.1,108.1 C427,107 429,106.6 431.4,106.6 L458,118.3 C460,119.5 461,120.5 461.1,121.4 L459.5,125.3 L389.1,181.7 C387.5,183 386,184 385.2,184 C383.5,184 382,183.5 381.3,182.5 L357,153.5 C356.5,151.5 356.3,150 356.3,148.8 Z" fill="#fff" stroke="#000" stroke-width="1.68" stroke-linejoin="round" />
<line x1="362" y1="157" x2="362" y2="164.5" stroke="#000" stroke-width="2.6" stroke-linecap="round"/>
<line x1="370.3" y1="170.7" x2="370.3" y2="175.4" stroke="#000" stroke-width="2.6" stroke-linecap="round"/>
<line x1="386" y1="184.8" x2="386" y2="190" stroke="#000" stroke-width="2.6" stroke-linecap="round"/>
<line x1="409.5" y1="169" x2="409.5" y2="174" stroke="#000" stroke-width="2.6" stroke-linecap="round"/>
<line x1="433" y1="150.4" x2="433" y2="155" stroke="#000" stroke-width="2.6" stroke-linecap="round"/>
<line x1="452.5" y1="132.4" x2="452.5" y2="138.6" stroke="#000" stroke-width="2.6" stroke-linecap="round"/>
<clipPath id="c1"><path d="M359.5,143 L364.5,137.5 L427,111 L430,110 L456,120.5 L457.5,123 L388,179.5 L384,180 L359.5,150 Z"/></clipPath><g clip-path="url(#c1)"><line x1="169.4" y1="212.4" x2="540.6" y2="62.8" stroke="#000" stroke-width="2.6"/><line x1="171.3" y1="217.1" x2="542.5" y2="67.5" stroke="#000" stroke-width="2.6"/><line x1="173.2" y1="221.9" x2="544.4" y2="72.3" stroke="#000" stroke-width="2.6"/><line x1="175.1" y1="226.6" x2="546.3" y2="77.0" stroke="#000" stroke-width="2.6"/><line x1="177.0" y1="231.3" x2="548.2" y2="81.7" stroke="#000" stroke-width="2.6"/><line x1="178.9" y1="236.1" x2="550.2" y2="86.5" stroke="#000" stroke-width="2.6"/><line x1="180.9" y1="240.8" x2="552.1" y2="91.2" stroke="#000" stroke-width="2.6"/><line x1="182.8" y1="245.5" x2="554.0" y2="95.9" stroke="#000" stroke-width="2.6"/><line x1="184.7" y1="250.2" x2="555.9" y2="100.6" stroke="#000" stroke-width="2.6"/><line x1="186.6" y1="255.0" x2="557.8" y2="105.4" stroke="#000" stroke-width="2.6"/><line x1="188.5" y1="259.7" x2="559.7" y2="110.1" stroke="#000" stroke-width="2.6"/><line x1="190.4" y1="264.4" x2="561.6" y2="114.8" stroke="#000" stroke-width="2.6"/><line x1="192.3" y1="269.2" x2="563.5" y2="119.6" stroke="#000" stroke-width="2.6"/><line x1="194.2" y1="273.9" x2="565.4" y2="124.3" stroke="#000" stroke-width="2.6"/><line x1="196.1" y1="278.6" x2="567.3" y2="129.0" stroke="#000" stroke-width="2.6"/></g>
<path d="M359.5,143 L361.5,139 L365,137 L426.5,111 L430.5,110 L456,121 L456.5,123 L389,179 L385.5,180.5 L383.5,179.5 L360,151 Z" fill="none" stroke="#000" stroke-width="1.32" stroke-linejoin="round" />
<polyline points="381,128.5 391,148 401,167.5" fill="none" stroke="#000" stroke-width="1.68"/>
<polyline points="403,120 413,135 423.5,150.5" fill="none" stroke="#000" stroke-width="1.68"/>
<line x1="346.5" y1="143.4" x2="355.6" y2="143.4" stroke="#000" stroke-width="1.32"/>
<text x="334.8" y="147.70000000000002" text-anchor="middle" class="lb">13</text>
<path d="M355.2,211.7 L358.7,207.4 L426.5,176.1 C429,175.3 431,175 433.4,175.2 L440.4,177.8 L461.2,192.6 L463,193.5 L471.7,194.3 L476.9,197.8 L477.7,204.8 L475.1,211.7 L468.2,216.9 L461.2,217.8 L454.3,215.2 L451.7,215.2 L407.4,250.8 L410.8,251.7 L411.7,258.6 L405.6,262.1 L393.4,263 L388.2,258.6 L384.8,255.2 L377.8,251.7 L362.2,236 L356.1,222.1 Z" fill="#fff" stroke="#000" stroke-width="1.92" stroke-linejoin="round" />
<path d="M359.6,212.6 L361.5,209.8 L427.3,179.6 L433,178.6 L439,181 L457.7,194.3 L456,197 L402.1,243.9 L393,248.5 L384.8,248.2 L380,245 L366,231 L360.5,220 Z" fill="#fff" stroke="#000" stroke-width="1.32" stroke-linejoin="round" />
<path d="M362.3,213.2 L363.8,211.2 L428,182.3 L432.8,181.5 L437.8,183.5 L454,194.8 L452.5,196.8 L400.5,241.5 L392.5,245.6 L385.5,245.4 L381.5,242.6 L368,229.3 L363,219.5 Z" fill="#fff" stroke="#000" stroke-width="1.08" stroke-linejoin="round" />
<ellipse cx="0" cy="0" rx="3.0" ry="1.7" transform="translate(363 216) rotate(-5)" fill="#333" stroke="#000" stroke-width="1.32"/>
<ellipse cx="0" cy="0" rx="1.5" ry="0.6" transform="translate(363.3 215.5) rotate(-5)" fill="#fff" stroke="#000" stroke-width="0.0"/>
<ellipse cx="0" cy="0" rx="3.0" ry="1.7" transform="translate(372.6 229.1) rotate(-5)" fill="#333" stroke="#000" stroke-width="1.32"/>
<ellipse cx="0" cy="0" rx="1.5" ry="0.6" transform="translate(372.90000000000003 228.6) rotate(-5)" fill="#fff" stroke="#000" stroke-width="0.0"/>
<ellipse cx="0" cy="0" rx="3.0" ry="1.7" transform="translate(383.9 204.8) rotate(-5)" fill="#333" stroke="#000" stroke-width="1.32"/>
<ellipse cx="0" cy="0" rx="1.5" ry="0.6" transform="translate(384.2 204.3) rotate(-5)" fill="#fff" stroke="#000" stroke-width="0.0"/>
<ellipse cx="0" cy="0" rx="3.0" ry="1.7" transform="translate(392.6 217.8) rotate(-5)" fill="#333" stroke="#000" stroke-width="1.32"/>
<ellipse cx="0" cy="0" rx="1.5" ry="0.6" transform="translate(392.90000000000003 217.3) rotate(-5)" fill="#fff" stroke="#000" stroke-width="0.0"/>
<ellipse cx="0" cy="0" rx="3.0" ry="1.7" transform="translate(387.4 245.6) rotate(-5)" fill="#333" stroke="#000" stroke-width="1.32"/>
<ellipse cx="0" cy="0" rx="1.5" ry="0.6" transform="translate(387.7 245.1) rotate(-5)" fill="#fff" stroke="#000" stroke-width="0.0"/>
<ellipse cx="0" cy="0" rx="1.7999999999999998" ry="1.02" transform="translate(383.9 231.2) rotate(-5)" fill="#333" stroke="#000" stroke-width="1.32"/>
<ellipse cx="0" cy="0" rx="3.0" ry="1.7" transform="translate(409.1 192.6) rotate(-5)" fill="#333" stroke="#000" stroke-width="1.32"/>
<ellipse cx="0" cy="0" rx="1.5" ry="0.6" transform="translate(409.40000000000003 192.1) rotate(-5)" fill="#fff" stroke="#000" stroke-width="0.0"/>
<ellipse cx="0" cy="0" rx="3.0" ry="1.7" transform="translate(409.1 207.4) rotate(-5)" fill="#333" stroke="#000" stroke-width="1.32"/>
<ellipse cx="0" cy="0" rx="1.5" ry="0.6" transform="translate(409.40000000000003 206.9) rotate(-5)" fill="#fff" stroke="#000" stroke-width="0.0"/>
<ellipse cx="0" cy="0" rx="3.0" ry="1.7" transform="translate(409.1 227.3) rotate(-5)" fill="#333" stroke="#000" stroke-width="1.32"/>
<ellipse cx="0" cy="0" rx="1.5" ry="0.6" transform="translate(409.40000000000003 226.8) rotate(-5)" fill="#fff" stroke="#000" stroke-width="0.0"/>
<ellipse cx="0" cy="0" rx="3.0" ry="1.7" transform="translate(425.6 197.8) rotate(-5)" fill="#333" stroke="#000" stroke-width="1.32"/>
<ellipse cx="0" cy="0" rx="1.5" ry="0.6" transform="translate(425.90000000000003 197.3) rotate(-5)" fill="#fff" stroke="#000" stroke-width="0.0"/>
<ellipse cx="0" cy="0" rx="3.0" ry="1.7" transform="translate(432.6 209.1) rotate(-5)" fill="#333" stroke="#000" stroke-width="1.32"/>
<ellipse cx="0" cy="0" rx="1.5" ry="0.6" transform="translate(432.90000000000003 208.6) rotate(-5)" fill="#fff" stroke="#000" stroke-width="0.0"/>
<ellipse cx="0" cy="0" rx="3.0" ry="1.7" transform="translate(450.8 194.3) rotate(-5)" fill="#333" stroke="#000" stroke-width="1.32"/>
<ellipse cx="0" cy="0" rx="1.5" ry="0.6" transform="translate(451.1 193.8) rotate(-5)" fill="#fff" stroke="#000" stroke-width="0.0"/>
<ellipse cx="0" cy="0" rx="1.7999999999999998" ry="1.02" transform="translate(430.8 191.7) rotate(-5)" fill="#333" stroke="#000" stroke-width="1.32"/>
<ellipse cx="0" cy="0" rx="3.0" ry="1.7" transform="translate(429.1 181.3) rotate(-5)" fill="#333" stroke="#000" stroke-width="1.32"/>
<ellipse cx="0" cy="0" rx="1.5" ry="0.6" transform="translate(429.40000000000003 180.8) rotate(-5)" fill="#fff" stroke="#000" stroke-width="0.0"/>
<path d="M452.5,207.4 L461.2,192.6 L463,193.5 L471.7,194.3 L476.9,197.8 L477.7,204.8 L475.1,211.7 L468.2,216.9 L461.2,217.8 L454.3,215.2 Z" fill="#fff" stroke="#000" stroke-width="1.56" stroke-linejoin="round" />
<polyline points="461.2,192.6 466,197 477,199" fill="none" stroke="#000" stroke-width="1.32"/>
<polyline points="466,197 466,215" fill="none" stroke="#000" stroke-width="1.32"/>
<circle cx="457.7" cy="210.8" r="1.9" fill="#fff" stroke="#000" stroke-width="1.44"/>
<polyline points="469.5,199 469,214" fill="none" stroke="#000" stroke-width="1.2"/>
<polyline points="472.5,199.5 472,213" fill="none" stroke="#000" stroke-width="1.2"/>
<polyline points="475,200 475,210" fill="none" stroke="#000" stroke-width="1.2"/>
<path d="M387.5,260.5 L390,262.6 L401.9,266 L407.4,265.1 L411,261.5 L411.9,253.2 L410.1,249.6 L402.8,247.8 L398,249.8 L390,254 Z" fill="#fff" stroke="#000" stroke-width="1.8" stroke-linejoin="round" />
<polyline points="397.5,251.2 402.8,247.8 410.1,250 406.5,253.2 397.5,251.2" fill="none" stroke="#000" stroke-width="1.32"/>
<polyline points="406.5,253.2 406.2,265.6" fill="none" stroke="#000" stroke-width="1.32"/>
<ellipse cx="0" cy="0" rx="3.2" ry="3.6" transform="translate(398.6 258.4) rotate(-10)" fill="#fff" stroke="#000" stroke-width="1.92"/>
<polyline points="397.6,257 399.5,259.8" fill="none" stroke="#000" stroke-width="1.2"/>
<line x1="450.8" y1="166" x2="450.8" y2="183" stroke="#000" stroke-width="1.32"/>
<text x="450.8" y="164.60000000000002" text-anchor="middle" class="lb">11</text>
<polyline points="412.4,258.3 429.5,264.5" fill="none" stroke="#000" stroke-width="0.96"/>
<polyline points="419.2,259.6 435.7,245.5 443.9,248.7" fill="none" stroke="#000" stroke-width="0.96"/>
<g transform="translate(310.90 218.90) rotate(22.1)"><rect x="3.4" y="-2.75" width="20.3" height="5.5" rx="1.5" fill="#fff" stroke="#000" stroke-width="1.5"/><line x1="6.4" y1="-2.2" x2="7.0" y2="2.2" stroke="#000" stroke-width="1.05"/><line x1="8.1" y1="-2.2" x2="8.7" y2="2.2" stroke="#000" stroke-width="1.05"/><line x1="9.9" y1="-2.2" x2="10.5" y2="2.2" stroke="#000" stroke-width="1.05"/><line x1="11.6" y1="-2.2" x2="12.2" y2="2.2" stroke="#000" stroke-width="1.05"/><line x1="13.4" y1="-2.2" x2="14.0" y2="2.2" stroke="#000" stroke-width="1.05"/><line x1="15.1" y1="-2.2" x2="15.7" y2="2.2" stroke="#000" stroke-width="1.05"/><line x1="16.9" y1="-2.2" x2="17.5" y2="2.2" stroke="#000" stroke-width="1.05"/><line x1="18.6" y1="-2.2" x2="19.2" y2="2.2" stroke="#000" stroke-width="1.05"/><line x1="20.4" y1="-2.2" x2="21.0" y2="2.2" stroke="#000" stroke-width="1.05"/><line x1="22.1" y1="-2.2" x2="22.7" y2="2.2" stroke="#000" stroke-width="1.05"/><rect x="-5.6" y="-5.6" width="10.1" height="11.2" rx="4.5" fill="#fff" stroke="#000" stroke-width="1.6"/><line x1="0.3" y1="-4.2" x2="0.3" y2="4.2" stroke="#000" stroke-width="1.0"/><line x1="2.5" y1="-4.5" x2="2.5" y2="4.5" stroke="#000" stroke-width="1.0"/></g>
<line x1="333.5" y1="228.6" x2="363.4" y2="240.4" stroke="#000" stroke-width="1.08"/>
<line x1="293" y1="218.2" x2="304.8" y2="218.2" stroke="#000" stroke-width="1.32"/>
<text x="283.9" y="222.0" text-anchor="middle" class="lb">25</text>
<path d="M481.6,194 L481.6,186 C481.6,184.3 484.6,184.3 484.6,186 L484.6,194 Z" fill="#fff" stroke="#000" stroke-width="1.44" stroke-linejoin="round" />
<line x1="483.1" y1="186.5" x2="483.1" y2="193.5" stroke="#000" stroke-width="1.08"/>
<line x1="482.9" y1="170" x2="482.9" y2="184" stroke="#000" stroke-width="1.2" stroke-dasharray="1.5 1.5"/>
<text x="482.9" y="167.70000000000002" text-anchor="middle" class="lb">29</text>
<rect x="-5.2" y="-3" width="10.4" height="6" rx="2.6" transform="translate(503.4 209.8) rotate(-30)" fill="#000"/>
<g transform="translate(503.4 209.8) rotate(-30)" stroke="#fff" stroke-width="0.6"><line x1="-2" y1="-2" x2="-2" y2="2"/><line x1="0" y1="-2" x2="0" y2="2"/><line x1="2" y1="-2" x2="2" y2="2"/></g>
<line x1="502.3" y1="195.5" x2="502.3" y2="206" stroke="#000" stroke-width="1.2" stroke-dasharray="1.5 1.5"/>
<text x="503.2" y="190.0" text-anchor="middle" class="lb">16</text>
<circle cx="516" cy="202.5" r="1.7" fill="#fff" stroke="#000" stroke-width="1.44"/>
<line x1="516" y1="204.3" x2="516" y2="219" stroke="#000" stroke-width="1.32"/>
<text x="516.8" y="231.60000000000002" text-anchor="middle" class="lb">30</text>
<path d="M522.4,194.2 L524.2,188.8 L528.7,186 L534.2,187 L538.8,190.6 L538.3,194.2 L534.2,198.8 L527.8,202 L523.3,201.1 Z" fill="#fff" stroke="#000" stroke-width="1.92" stroke-linejoin="round" />
<circle cx="528.3" cy="191.5" r="2.0" fill="#000" stroke="#000" stroke-width="0.0"/>
<circle cx="534.2" cy="192.4" r="1.6" fill="#000" stroke="#000" stroke-width="0.0"/>
<circle cx="530.6" cy="198.4" r="1.8" fill="#000" stroke="#000" stroke-width="0.0"/>
<line x1="538.8" y1="191" x2="551.3" y2="191" stroke="#000" stroke-width="1.32"/>
<text x="560.9" y="196.4" text-anchor="middle" class="lb">14</text>
<path d="M429.9,262.5 L431.1,260.7 L485.9,217.4 L488.3,216.8 L498.1,221.7 L499.3,223.5 L498.1,229.6 L494.4,239.4 L474.9,256.4 L471.3,261.3 L466.4,265 L459.1,266.2 L455.5,268.6 L455.5,275.9 L450.6,279.6 L444.5,280.8 L432.3,277.1 L429.9,273.5 Z" fill="#fff" stroke="#000" stroke-width="1.8" stroke-linejoin="round" />
<polyline points="431.1,261.5 444.5,266.2 498,223" fill="none" stroke="#000" stroke-width="1.44"/>
<polyline points="444.5,266.2 445.7,280.5" fill="none" stroke="#000" stroke-width="1.44"/>
<polyline points="446.5,269 496,228.5" fill="none" stroke="#000" stroke-width="1.2"/>
<path d="M477.4,240 L491,229.5 L495.6,232 L490,240 L481,243.5 Z" fill="#fff" stroke="#000" stroke-width="1.2" stroke-linejoin="round" />
<rect x="434" y="264" width="2.6" height="2.6" fill="#fff" stroke="#000" stroke-width="1"/>
<circle cx="433.5" cy="272.2" r="1.1" fill="#000" stroke="#000" stroke-width="0.96"/>
<ellipse cx="0" cy="0" rx="4.0" ry="5.4" transform="translate(452.4 271) rotate(-10)" fill="#fff" stroke="#000" stroke-width="1.68"/>
<ellipse cx="0" cy="0" rx="2.2" ry="3.2" transform="translate(452.8 271.2) rotate(-10)" fill="#888" stroke="#000" stroke-width="1.2"/>
<circle cx="453" cy="271.3" r="1.1" fill="#fff" stroke="#000" stroke-width="0.96"/>
<ellipse cx="0" cy="0" rx="4.0" ry="5.2" transform="translate(469.5 257) rotate(-10)" fill="#fff" stroke="#000" stroke-width="1.68"/>
<ellipse cx="0" cy="0" rx="2.2" ry="3.2" transform="translate(470 257.2) rotate(-10)" fill="#888" stroke="#000" stroke-width="1.2"/>
<circle cx="470.2" cy="257.3" r="1.1" fill="#fff" stroke="#000" stroke-width="0.96"/>
<polyline points="455.5,265 461,260 466,255.5" fill="none" stroke="#000" stroke-width="1.32"/>
<polyline points="456,276 462,268 470,262.5" fill="none" stroke="#000" stroke-width="1.32"/>
<line x1="473.7" y1="260" x2="491.4" y2="260" stroke="#000" stroke-width="1.32"/>
<text x="502.2" y="264.2" text-anchor="middle" class="lb">10</text>
<path d="M500,292.1 L571.8,263 L575.5,263 L584.2,270.4 L584.8,285.9 L553.2,298.9 L551.4,295.2 L547.7,293.9 L544.6,296.4 L542.1,301.4 L523.5,308.8 L521.6,305.7 L517.9,305.1 L515.4,307.6 L513.6,311.3 L510.5,312.5 L504.9,315 L500.6,312.5 L500,294 Z" fill="#fff" stroke="#000" stroke-width="1.8" stroke-linejoin="round" />
<polyline points="500,292.1 507.4,295.2 581.7,271 584.2,270.4" fill="none" stroke="#000" stroke-width="1.32"/>
<polyline points="507.4,295.2 508.6,313.2" fill="none" stroke="#000" stroke-width="1.32"/>
<polyline points="511.1,302.6 583,275.3" fill="none" stroke="#000" stroke-width="1.32"/>
<polyline points="581.7,271 583,285.9" fill="none" stroke="#000" stroke-width="1.2"/>
<ellipse cx="0" cy="0" rx="1.6" ry="2.2" transform="translate(505.5 303.2) rotate(0)" fill="#fff" stroke="#000" stroke-width="1.32"/>
<circle cx="504.9" cy="311.3" r="1.2" fill="#000" stroke="#000" stroke-width="1.2"/>
<polyline points="518,305.5 518.6,310.5" fill="none" stroke="#000" stroke-width="1.2"/>
<polyline points="547.8,294.3 548.4,299" fill="none" stroke="#000" stroke-width="1.2"/>
<line x1="546.4" y1="258.8" x2="546.4" y2="274.4" stroke="#000" stroke-width="1.32"/>
<text x="546" y="257.4" text-anchor="middle" class="lb">17</text>
<polyline points="518.5,310.5 536,330.7 567.2,319.3 545.8,298.9" fill="none" stroke="#000" stroke-width="0.96"/>
<line x1="536" y1="330.7" x2="463" y2="361.5" stroke="#000" stroke-width="0.96"/>
<g transform="translate(594 268.2) rotate(-28)"><rect x="-5" y="-2.6" width="10" height="5.2" rx="2.4" fill="#fff" stroke="#000" stroke-width="1.3"/><g stroke="#000" stroke-width="1.2"><line x1="-2.6" y1="-2.6" x2="-1.6" y2="2.6"/><line x1="-0.2" y1="-2.6" x2="0.8" y2="2.6"/><line x1="2.2" y1="-2.6" x2="3.2" y2="2.6"/></g></g>
<line x1="588.7" y1="254" x2="588.7" y2="266.5" stroke="#000" stroke-width="1.32"/>
<text x="589.5" y="248.60000000000002" text-anchor="middle" class="lb">16</text>
<circle cx="608.3" cy="266" r="2.1" fill="#fff" stroke="#000" stroke-width="1.44"/>
<line x1="608.3" y1="231" x2="608.3" y2="263.6" stroke="#000" stroke-width="1.32"/>
<text x="608.6" y="228.5" text-anchor="middle" class="lb">30</text>
<path d="M614.2,251.4 L616.5,249.6 L620.1,251.9 L623.8,258.2 L627.4,266.5 L626.1,269.2 L622.9,269.7 L618.3,264.6 L614.2,259.2 Z" fill="#fff" stroke="#000" stroke-width="2.04" stroke-linejoin="round" />
<polyline points="616,252.5 618.8,258 622.5,266.5 625.5,268.5" fill="none" stroke="#000" stroke-width="1.2"/>
<circle cx="619.2" cy="258.6" r="1.3" fill="#000" stroke="#000" stroke-width="0.0"/>
<line x1="622.5" y1="252.8" x2="633" y2="252.8" stroke="#000" stroke-width="1.2" stroke-dasharray="1 1"/>
<text x="641.8" y="256.6" text-anchor="middle" class="lb">21</text>
<line x1="594.6" y1="302" x2="594.6" y2="307.5" stroke="#000" stroke-width="2.8" stroke-linecap="round"/>
<line x1="594.6" y1="302" x2="594.6" y2="306.0" stroke="#fff" stroke-width="0.9"/>
<line x1="622.9" y1="309.5" x2="622.9" y2="314.8" stroke="#000" stroke-width="2.8" stroke-linecap="round"/>
<line x1="622.9" y1="309.5" x2="622.9" y2="313.3" stroke="#fff" stroke-width="0.9"/>
<line x1="646.6" y1="313" x2="646.6" y2="320.3" stroke="#000" stroke-width="2.8" stroke-linecap="round"/>
<line x1="646.6" y1="313" x2="646.6" y2="318.8" stroke="#fff" stroke-width="0.9"/>
<line x1="669.4" y1="306" x2="669.4" y2="312.1" stroke="#000" stroke-width="2.8" stroke-linecap="round"/>
<line x1="669.4" y1="306" x2="669.4" y2="310.6" stroke="#fff" stroke-width="0.9"/>
<line x1="688.6" y1="291.5" x2="688.6" y2="296.6" stroke="#000" stroke-width="2.8" stroke-linecap="round"/>
<line x1="688.6" y1="291.5" x2="688.6" y2="295.1" stroke="#fff" stroke-width="0.9"/>
<line x1="707.8" y1="276.5" x2="707.8" y2="283.8" stroke="#000" stroke-width="2.8" stroke-linecap="round"/>
<line x1="707.8" y1="276.5" x2="707.8" y2="282.3" stroke="#fff" stroke-width="0.9"/>
<path d="M585.5,290.2 L588.2,286.5 L682.2,251 C685,250.3 687.5,250.3 689.5,250.6 L711.4,261.9 C713.5,263 715,264.5 715.1,266.5 L714.1,270.1 L665.8,305.7 L660.3,309.4 C657.5,311 655,312 653,312.1 L643.9,311.2 L591,300.2 C588.5,299.3 587,298 586.4,296.6 Z" fill="#fff" stroke="#000" stroke-width="1.8" stroke-linejoin="round" />
<path d="M589,292 L590.5,289.5 L683,254 L689,253.5 L709.5,264 L711,267 L663.5,303 L656,307.5 L645,308 L592,297.5 Z" fill="#fff" stroke="#000" stroke-width="1.2" stroke-linejoin="round" />
<clipPath id="c2"><path d="M590,292 L683,255 L688.5,254.5 L709,264.5 L710,266.5 L663,302.5 L656,306.5 L645,307 L592,296.5 Z"/></clipPath><g clip-path="url(#c2)"><line x1="402.5" y1="364.5" x2="770.5" y2="208.5" stroke="#000" stroke-width="2.6"/><line x1="404.5" y1="369.1" x2="772.5" y2="213.1" stroke="#000" stroke-width="2.6"/><line x1="406.4" y1="373.7" x2="774.4" y2="217.7" stroke="#000" stroke-width="2.6"/><line x1="408.4" y1="378.3" x2="776.4" y2="222.3" stroke="#000" stroke-width="2.6"/><line x1="410.3" y1="382.9" x2="778.3" y2="226.9" stroke="#000" stroke-width="2.6"/><line x1="412.2" y1="387.5" x2="780.2" y2="231.5" stroke="#000" stroke-width="2.6"/><line x1="414.2" y1="392.1" x2="782.2" y2="236.1" stroke="#000" stroke-width="2.6"/><line x1="416.1" y1="396.7" x2="784.1" y2="240.7" stroke="#000" stroke-width="2.6"/><line x1="418.1" y1="401.3" x2="786.1" y2="245.3" stroke="#000" stroke-width="2.6"/><line x1="420.0" y1="405.9" x2="788.0" y2="249.9" stroke="#000" stroke-width="2.6"/><line x1="422.0" y1="410.5" x2="790.0" y2="254.5" stroke="#000" stroke-width="2.6"/><line x1="424.0" y1="415.1" x2="792.0" y2="259.1" stroke="#000" stroke-width="2.6"/><line x1="425.9" y1="419.7" x2="793.9" y2="263.7" stroke="#000" stroke-width="2.6"/><line x1="427.9" y1="424.3" x2="795.9" y2="268.3" stroke="#000" stroke-width="2.6"/></g>
<polyline points="612,283 630,296 647,307" fill="none" stroke="#000" stroke-width="1.92"/>
<polyline points="640,270 660,282 675,295" fill="none" stroke="#000" stroke-width="1.92"/>
<polyline points="665,259 685,270 697,282" fill="none" stroke="#000" stroke-width="1.56"/>
<line x1="680.4" y1="233" x2="680.4" y2="250.5" stroke="#000" stroke-width="1.32"/>
<text x="680" y="231.60000000000002" text-anchor="middle" class="lb">20</text>
<line x1="694.8" y1="318.5" x2="695.5" y2="327" stroke="#000" stroke-width="2.4"/>
<line x1="694.8" y1="318.5" x2="695.5" y2="327" stroke="#fff" stroke-width="0.7"/>
<line x1="697.4" y1="323.8" x2="710.4" y2="323.8" stroke="#000" stroke-width="1.32"/>
<text x="720.8" y="328.1" text-anchor="middle" class="lb">29</text>
<path d="M570.2,369 L573.3,364.8 L579.6,361.7 L584.8,363.8 L588,369 L589,372.1 L654.7,344 L654.7,334.6 L657.8,329.4 L667.2,324.2 L676.6,325.2 L680.8,330.4 L681.8,333.6 L694.3,339.8 L711,348.2 L715.2,352.3 L714.1,358.6 L681.8,382.6 L680.8,390.9 L671.4,397.2 L665.1,399.3 L654.7,403.4 L642.2,405.5 L633.8,404.5 L602.5,394 L586.9,387.8 L577.5,380.5 L572.3,375.3 Z" fill="#fff" stroke="#000" stroke-width="1.92" stroke-linejoin="round" />
<path d="M590,377.5 L655,349 L684.5,336.8 L709,348.5 L711.5,351.5 L710,355.5 L679,378 L668,388 L656.5,395.3 L643,399 L633,398 L602,388 L592,383 Z" fill="#fff" stroke="#000" stroke-width="1.44" stroke-linejoin="round" />
<path d="M593,378 L656,351.5 L684.5,339.8 L706.5,350 L707.5,353 L676.5,376 L666,385.5 L655.5,392.2 L643,395.6 L634,394.8 L603,385 L594.5,381 Z" fill="#fff" stroke="#000" stroke-width="1.08" stroke-linejoin="round" />
<ellipse cx="0" cy="0" rx="2.8" ry="1.6" transform="translate(595.9 381.1) rotate(-8)" fill="#333" stroke="#000" stroke-width="1.32"/>
<ellipse cx="0" cy="0" rx="1.4" ry="0.6" transform="translate(596.1999999999999 380.70000000000005) rotate(-8)" fill="#fff" stroke="#000" stroke-width="0.0"/>
<ellipse cx="0" cy="0" rx="2.8" ry="1.6" transform="translate(626.5 368.4) rotate(-8)" fill="#333" stroke="#000" stroke-width="1.32"/>
<ellipse cx="0" cy="0" rx="1.4" ry="0.6" transform="translate(626.8 368.0) rotate(-8)" fill="#fff" stroke="#000" stroke-width="0.0"/>
<ellipse cx="0" cy="0" rx="2.8" ry="1.6" transform="translate(624.4 388.8) rotate(-8)" fill="#333" stroke="#000" stroke-width="1.32"/>
<ellipse cx="0" cy="0" rx="1.4" ry="0.6" transform="translate(624.6999999999999 388.40000000000003) rotate(-8)" fill="#fff" stroke="#000" stroke-width="0.0"/>
<ellipse cx="0" cy="0" rx="1.68" ry="0.96" transform="translate(621.3 383.6) rotate(-8)" fill="#333" stroke="#000" stroke-width="1.32"/>
<ellipse cx="0" cy="0" rx="2.8" ry="1.6" transform="translate(643.2 379.4) rotate(-8)" fill="#333" stroke="#000" stroke-width="1.32"/>
<ellipse cx="0" cy="0" rx="1.4" ry="0.6" transform="translate(643.5 379.0) rotate(-8)" fill="#fff" stroke="#000" stroke-width="0.0"/>
<ellipse cx="0" cy="0" rx="2.8" ry="1.6" transform="translate(647.4 393) rotate(-8)" fill="#333" stroke="#000" stroke-width="1.32"/>
<ellipse cx="0" cy="0" rx="1.4" ry="0.6" transform="translate(647.6999999999999 392.6) rotate(-8)" fill="#fff" stroke="#000" stroke-width="0.0"/>
<ellipse cx="0" cy="0" rx="2.8" ry="1.6" transform="translate(657.8 355.5) rotate(-8)" fill="#333" stroke="#000" stroke-width="1.32"/>
<ellipse cx="0" cy="0" rx="1.4" ry="0.6" transform="translate(658.0999999999999 355.1) rotate(-8)" fill="#fff" stroke="#000" stroke-width="0.0"/>
<ellipse cx="0" cy="0" rx="2.8" ry="1.6" transform="translate(662 369) rotate(-8)" fill="#333" stroke="#000" stroke-width="1.32"/>
<ellipse cx="0" cy="0" rx="1.4" ry="0.6" transform="translate(662.3 368.6) rotate(-8)" fill="#fff" stroke="#000" stroke-width="0.0"/>
<ellipse cx="0" cy="0" rx="2.8" ry="1.6" transform="translate(667.2 382.6) rotate(-8)" fill="#333" stroke="#000" stroke-width="1.32"/>
<ellipse cx="0" cy="0" rx="1.4" ry="0.6" transform="translate(667.5 382.20000000000005) rotate(-8)" fill="#fff" stroke="#000" stroke-width="0.0"/>
<ellipse cx="0" cy="0" rx="2.8" ry="1.6" transform="translate(680.8 358.2) rotate(-8)" fill="#333" stroke="#000" stroke-width="1.32"/>
<ellipse cx="0" cy="0" rx="1.4" ry="0.6" transform="translate(681.0999999999999 357.8) rotate(-8)" fill="#fff" stroke="#000" stroke-width="0.0"/>
<ellipse cx="0" cy="0" rx="2.8" ry="1.6" transform="translate(687 343) rotate(-8)" fill="#333" stroke="#000" stroke-width="1.32"/>
<ellipse cx="0" cy="0" rx="1.4" ry="0.6" transform="translate(687.3 342.6) rotate(-8)" fill="#fff" stroke="#000" stroke-width="0.0"/>
<ellipse cx="0" cy="0" rx="1.68" ry="0.96" transform="translate(690.2 352.3) rotate(-8)" fill="#333" stroke="#000" stroke-width="1.32"/>
<ellipse cx="0" cy="0" rx="2.8" ry="1.6" transform="translate(687 368) rotate(-8)" fill="#333" stroke="#000" stroke-width="1.32"/>
<ellipse cx="0" cy="0" rx="1.4" ry="0.6" transform="translate(687.3 367.6) rotate(-8)" fill="#fff" stroke="#000" stroke-width="0.0"/>
<ellipse cx="0" cy="0" rx="2.8" ry="1.6" transform="translate(706.8 354.4) rotate(-8)" fill="#333" stroke="#000" stroke-width="1.32"/>
<ellipse cx="0" cy="0" rx="1.4" ry="0.6" transform="translate(707.0999999999999 354.0) rotate(-8)" fill="#fff" stroke="#000" stroke-width="0.0"/>
<path d="M570.2,369 L573.3,364.8 L579.6,361.7 L584.8,363.8 L588,369 L589,374 L585,377.5 L578,373 Z" fill="#fff" stroke="#000" stroke-width="1.44" stroke-linejoin="round" />
<path d="M573.3,364.8 L579.6,361.7 L584.8,363.8 L580.5,366.5 Z" fill="#fff" stroke="#000" stroke-width="1.08" stroke-linejoin="round" />
<circle cx="576.5" cy="375.3" r="1.5" fill="#fff" stroke="#000" stroke-width="1.2"/>
<polyline points="584,386.5 585.5,378 589,374" fill="none" stroke="#000" stroke-width="1.2"/>
<path d="M654.7,344 L654.7,334.6 L657.8,329.4 L667.2,324.2 L676.6,325.2 L680.8,330.4 L681.8,333.6 L681.5,338 L670,342 L662,345 Z" fill="#fff" stroke="#000" stroke-width="1.56" stroke-linejoin="round" />
<path d="M657.8,329.4 L667.2,324.2 L676.6,325.2 L680.8,330.4 L671,334.5 L662,334 Z" fill="#fff" stroke="#000" stroke-width="1.2" stroke-linejoin="round" />
<line x1="662" y1="334" x2="662" y2="345" stroke="#000" stroke-width="1.2"/>
<circle cx="659" cy="339.8" r="1.5" fill="#fff" stroke="#000" stroke-width="1.2"/>
<path d="M668.3,389 L677,383 L681.8,382.6 L681.5,391 L672,397.5 L668.8,398 Z" fill="#fff" stroke="#000" stroke-width="1.44" stroke-linejoin="round" />
<line x1="672" y1="388.5" x2="672" y2="397.5" stroke="#000" stroke-width="1.2"/>
<line x1="718.2" y1="357" x2="731.3" y2="357" stroke="#000" stroke-width="1.44"/>
<text x="739.5" y="361.8" text-anchor="middle" class="lb">18</text>
<path d="M586.9,440.1 L590,436.9 L681.8,399.4 C684.5,398.3 687.5,397.8 690.2,397.9 L708.9,406.7 C711,408 712.5,409.3 713.1,410.9 L712.1,417.1 L663,452.6 L656.8,456.8 C655,458 653.8,458.6 652.6,458.8 L623.4,456.8 L594.2,447.4 L588,444.2 C587,443 586.7,441.5 586.9,440.1 Z" fill="#fff" stroke="#000" stroke-width="1.92" stroke-linejoin="round" />
<path d="M591.5,440.5 L683.5,402.5 L690,401.5 L707,409.5 L708.5,412 L707.5,415 L661,449 L654.5,453.5 L623.5,452 L595,443.5 Z" fill="#555" stroke="#000" stroke-width="1.44" stroke-linejoin="round" />
<path d="M595,440.3 L684.5,405.8 L689.5,405.3 L703.5,411.8 L704,414 L659,446.3 L654,449.6 L624,448.3 L597.5,441.3 Z" fill="#fff" stroke="#000" stroke-width="1.2" stroke-linejoin="round" />
<path d="M629.7,432.8 L633.8,430.7 L673.5,416.1 L680.8,419.2 L680,421 L657.8,439 L652.6,441.1 L630.7,434.8 Z" fill="#fff" stroke="#000" stroke-width="1.32" stroke-linejoin="round" />
<polyline points="633.8,430.7 636,433.5 654,438.8 657.8,439" fill="none" stroke="#000" stroke-width="1.08"/>
<ellipse cx="0" cy="0" rx="5.760000000000001" ry="3.9600000000000004" transform="translate(621.5 441.3) rotate(0)" fill="#fff" stroke="#000" stroke-width="1.8"/>
<ellipse cx="0" cy="0" rx="3.24" ry="2.16" transform="translate(621.5 440.1) rotate(0)" fill="#222" stroke="#000" stroke-width="1.44"/>
<ellipse cx="0" cy="0" rx="1.35" ry="0.81" transform="translate(621.5 439.9) rotate(0)" fill="#fff" stroke="#000" stroke-width="0.0"/>
<ellipse cx="0" cy="0" rx="6.4" ry="4.4" transform="translate(689.3 415.2) rotate(0)" fill="#fff" stroke="#000" stroke-width="1.8"/>
<ellipse cx="0" cy="0" rx="3.6" ry="2.4" transform="translate(689.3 414.0) rotate(0)" fill="#222" stroke="#000" stroke-width="1.44"/>
<ellipse cx="0" cy="0" rx="1.5" ry="0.9" transform="translate(689.3 413.79999999999995) rotate(0)" fill="#fff" stroke="#000" stroke-width="0.0"/>
<line x1="714.5" y1="410.7" x2="734.4" y2="410.7" stroke="#000" stroke-width="1.44"/>
<text x="745.7" y="415.90000000000003" text-anchor="middle" class="lb">19</text>
<g transform="translate(689.00 453.50) rotate(-90.0)"><rect x="1" y="-2.5" width="10.300000000000011" height="5.0" rx="0.8" fill="#000"/><line x1="3.2" y1="-1.4" x2="3.2" y2="1.4" stroke="#fff" stroke-width="0.75"/><line x1="5.2" y1="-1.4" x2="5.2" y2="1.4" stroke="#fff" stroke-width="0.75"/><line x1="7.2" y1="-1.4" x2="7.2" y2="1.4" stroke="#fff" stroke-width="0.75"/><line x1="9.2" y1="-1.4" x2="9.2" y2="1.4" stroke="#fff" stroke-width="0.75"/><rect x="-4.8" y="-5.3" width="7.0" height="10.6" rx="3.5" fill="#000"/><line x1="0.3" y1="-3.5" x2="0.3" y2="3.5" stroke="#fff" stroke-width="0.8"/><line x1="-2.6" y1="-2.4" x2="-2.6" y2="2.4" stroke="#fff" stroke-width="0.9"/></g>
<line x1="694" y1="453.3" x2="716" y2="453.3" stroke="#000" stroke-width="1.44"/>
<text x="725.9" y="457.90000000000003" text-anchor="middle" class="lb">23</text>
<g transform="translate(576.50 464.00) rotate(-85.2)"><rect x="1" y="-2.5" width="11.041594578792296" height="5.0" rx="0.8" fill="#000"/><line x1="3.2" y1="-1.4" x2="3.2" y2="1.4" stroke="#fff" stroke-width="0.75"/><line x1="5.2" y1="-1.4" x2="5.2" y2="1.4" stroke="#fff" stroke-width="0.75"/><line x1="7.2" y1="-1.4" x2="7.2" y2="1.4" stroke="#fff" stroke-width="0.75"/><line x1="9.2" y1="-1.4" x2="9.2" y2="1.4" stroke="#fff" stroke-width="0.75"/><rect x="-4.8" y="-5.3" width="7.0" height="10.6" rx="3.5" fill="#000"/><line x1="0.3" y1="-3.5" x2="0.3" y2="3.5" stroke="#fff" stroke-width="0.8"/><line x1="-2.6" y1="-2.4" x2="-2.6" y2="2.4" stroke="#fff" stroke-width="0.9"/></g>
<line x1="577.5" y1="446.3" x2="622.4" y2="458.8" stroke="#000" stroke-width="0.96"/>
<line x1="558" y1="456" x2="570.5" y2="456" stroke="#000" stroke-width="1.2" stroke-dasharray="1.5 1.5"/>
<text x="551.4" y="459.8" text-anchor="middle" class="lb">23</text>
<text x="650.5" y="472.3" textLength="50" lengthAdjust="spacingAndGlyphs" style="font-family:Liberation Sans,sans-serif;font-size:10px;fill:#000;stroke:#000;stroke-width:0.25px">MCAEF2600</text>
<path d="M356,327.3 L359,322.1 L365,316.9 L423.2,290.7 C425.5,289.7 428,289.2 430.7,289.2 L454.6,301.9 L456.9,304.9 L456.1,310.2 L442.7,319.9 L394.8,363.2 L387.4,367 L382.9,366.2 L359,340.8 L356,333.3 Z" fill="#fff" stroke="#000" stroke-width="1.92" stroke-linejoin="round" />
<path d="M359.6,327.8 L362,324 L367,320 L424,294 L430.5,292.8 L452.5,304.2 L453.5,306 L452.5,308.8 L440.5,317.5 L393.5,360 L387.8,363 L384,362.5 L361.8,338.5 L359.6,332.5 Z" fill="#a0a0a0" stroke="#000" stroke-width="1.32" stroke-linejoin="round" />
<path d="M362.4,328.5 L364.5,325.5 L368.5,322.5 L424.8,297 L430.3,296 L449.5,306 L449.8,307.8 L438.5,316 L392.2,357.2 L387.8,359.5 L385,359.2 L364.3,336.5 L362.4,331.8 Z" fill="#fff" stroke="#000" stroke-width="1.08" stroke-linejoin="round" />
<polyline points="357.5,335 361,342 383,365" fill="none" stroke="#000" stroke-width="1.2"/>
<path d="M382.9,324.4 L387.4,322.1 L417.3,308.7 L424.7,310.2 L431.5,316.1 L429.2,319.9 L397.8,343.8 L393.3,343.8 L384.4,331.8 Z" fill="#fff" stroke="#000" stroke-width="1.44" stroke-linejoin="round" />
<polyline points="385.5,326 388,324.5 417.5,311.5 423.5,312.5 428.5,317" fill="none" stroke="#000" stroke-width="1.08"/>
<ellipse cx="0" cy="0" rx="6.2" ry="4.2" transform="translate(429.2 304.2) rotate(0)" fill="#fff" stroke="#000" stroke-width="1.8"/>
<ellipse cx="0" cy="0" rx="6.2" ry="3.6" transform="translate(429.2 305.4) rotate(0)" fill="none" stroke="#000" stroke-width="0.0"/>
<ellipse cx="0" cy="0" rx="3.4" ry="2.2" transform="translate(429.2 303.59999999999997) rotate(0)" fill="#222" stroke="#000" stroke-width="1.32"/>
<ellipse cx="0" cy="0" rx="1.6" ry="0.9" transform="translate(429.2 303.3) rotate(0)" fill="#fff" stroke="#000" stroke-width="0.0"/>
<ellipse cx="0" cy="0" rx="6.2" ry="4.2" transform="translate(384.4 344.5) rotate(0)" fill="#fff" stroke="#000" stroke-width="1.8"/>
<ellipse cx="0" cy="0" rx="6.2" ry="3.6" transform="translate(384.4 345.7) rotate(0)" fill="none" stroke="#000" stroke-width="0.0"/>
<ellipse cx="0" cy="0" rx="3.4" ry="2.2" transform="translate(384.4 343.9) rotate(0)" fill="#222" stroke="#000" stroke-width="1.32"/>
<ellipse cx="0" cy="0" rx="1.6" ry="0.9" transform="translate(384.4 343.6) rotate(0)" fill="#fff" stroke="#000" stroke-width="0.0"/>
<line x1="449.5" y1="319.6" x2="467.8" y2="319.6" stroke="#000" stroke-width="1.32"/>
<text x="477.3" y="323.40000000000003" text-anchor="middle" class="lb">12</text>
<g transform="translate(428.50 353.00) rotate(-89.1)"><rect x="1" y="-2.5" width="11.301625908797595" height="5.0" rx="0.8" fill="#000"/><line x1="3.2" y1="-1.4" x2="3.2" y2="1.4" stroke="#fff" stroke-width="0.75"/><line x1="5.2" y1="-1.4" x2="5.2" y2="1.4" stroke="#fff" stroke-width="0.75"/><line x1="7.2" y1="-1.4" x2="7.2" y2="1.4" stroke="#fff" stroke-width="0.75"/><line x1="9.2" y1="-1.4" x2="9.2" y2="1.4" stroke="#fff" stroke-width="0.75"/><line x1="11.2" y1="-1.4" x2="11.2" y2="1.4" stroke="#fff" stroke-width="0.75"/><rect x="-4.6" y="-5.0" width="6.8" height="10.1" rx="3.4" fill="#000"/><line x1="0.3" y1="-3.4" x2="0.3" y2="3.4" stroke="#fff" stroke-width="0.8"/><line x1="-2.5" y1="-2.3" x2="-2.5" y2="2.3" stroke="#fff" stroke-width="0.9"/></g>
<line x1="434" y1="348.2" x2="441" y2="348.2" stroke="#000" stroke-width="1.32"/>
<text x="452.2" y="352.0" text-anchor="middle" class="lb">23</text>
<g transform="translate(383.00 391.00) rotate(-90.0)"><rect x="1" y="-2.5" width="10.5" height="5.0" rx="0.8" fill="#000"/><line x1="3.2" y1="-1.4" x2="3.2" y2="1.4" stroke="#fff" stroke-width="0.75"/><line x1="5.2" y1="-1.4" x2="5.2" y2="1.4" stroke="#fff" stroke-width="0.75"/><line x1="7.2" y1="-1.4" x2="7.2" y2="1.4" stroke="#fff" stroke-width="0.75"/><line x1="9.2" y1="-1.4" x2="9.2" y2="1.4" stroke="#fff" stroke-width="0.75"/><rect x="-4.6" y="-5.0" width="6.8" height="10.1" rx="3.4" fill="#000"/><line x1="0.3" y1="-3.4" x2="0.3" y2="3.4" stroke="#fff" stroke-width="0.8"/><line x1="-2.5" y1="-2.3" x2="-2.5" y2="2.3" stroke="#fff" stroke-width="0.9"/></g>
<line x1="389" y1="389" x2="398" y2="389" stroke="#000" stroke-width="1.32"/>
<text x="408" y="393.0" text-anchor="middle" class="lb">23</text>
<line x1="322" y1="319.5" x2="384.5" y2="271" stroke="#000" stroke-width="5.8" stroke-linecap="round"/>
<line x1="322" y1="319.5" x2="384.5" y2="271" stroke="#fff" stroke-width="3.0" stroke-linecap="round"/>
<ellipse cx="0" cy="0" rx="4.6" ry="4.4" transform="translate(321 320.5) rotate(0)" fill="#fff" stroke="#000" stroke-width="1.92"/>
<ellipse cx="0" cy="0" rx="2.6" ry="2.4" transform="translate(321.3 320.6) rotate(0)" fill="#fff" stroke="#000" stroke-width="1.32"/>
<circle cx="321.6" cy="320.4" r="0.9" fill="#000" stroke="#000" stroke-width="0.0"/>
<line x1="318.5" y1="317" x2="320" y2="324" stroke="#000" stroke-width="1.08"/>
<line x1="341.7" y1="283" x2="341.7" y2="298.7" stroke="#000" stroke-width="1.32"/>
<text x="341.7" y="277.7" text-anchor="middle" class="lb">15</text>
<line x1="474" y1="416.5" x2="561.5" y2="381.3" stroke="#000" stroke-width="5.8" stroke-linecap="round"/>
<line x1="474" y1="416.5" x2="561.5" y2="381.3" stroke="#fff" stroke-width="3.0" stroke-linecap="round"/>
<ellipse cx="0" cy="0" rx="3.6" ry="5.2" transform="translate(473 417) rotate(-20)" fill="#fff" stroke="#000" stroke-width="1.92"/>
<ellipse cx="0" cy="0" rx="2.0" ry="3.0" transform="translate(473.2 417.2) rotate(-20)" fill="#444" stroke="#000" stroke-width="1.32"/>
<circle cx="473.3" cy="417.3" r="0.8" fill="#fff" stroke="#000" stroke-width="0.0"/>
<line x1="504.3" y1="410.8" x2="504.3" y2="422.6" stroke="#000" stroke-width="1.32"/>
<text x="504.3" y="432.8" text-anchor="middle" class="lb">15</text>
<g transform="translate(485.00 380.50) rotate(-142.9)"><rect x="3.2" y="-2.6" width="20.0" height="5.2" rx="1.5" fill="#fff" stroke="#000" stroke-width="1.5"/><line x1="6.2" y1="-2.1" x2="6.8" y2="2.1" stroke="#000" stroke-width="1.05"/><line x1="8.0" y1="-2.1" x2="8.6" y2="2.1" stroke="#000" stroke-width="1.05"/><line x1="9.7" y1="-2.1" x2="10.3" y2="2.1" stroke="#000" stroke-width="1.05"/><line x1="11.5" y1="-2.1" x2="12.1" y2="2.1" stroke="#000" stroke-width="1.05"/><line x1="13.2" y1="-2.1" x2="13.8" y2="2.1" stroke="#000" stroke-width="1.05"/><line x1="15.0" y1="-2.1" x2="15.6" y2="2.1" stroke="#000" stroke-width="1.05"/><line x1="16.7" y1="-2.1" x2="17.3" y2="2.1" stroke="#000" stroke-width="1.05"/><line x1="18.5" y1="-2.1" x2="19.1" y2="2.1" stroke="#000" stroke-width="1.05"/><line x1="20.2" y1="-2.1" x2="20.8" y2="2.1" stroke="#000" stroke-width="1.05"/><line x1="22.0" y1="-2.1" x2="22.6" y2="2.1" stroke="#000" stroke-width="1.05"/><rect x="-5.4" y="-5.4" width="9.7" height="10.8" rx="4.3" fill="#fff" stroke="#000" stroke-width="1.6"/><line x1="0.3" y1="-4.1" x2="0.3" y2="4.1" stroke="#000" stroke-width="1.0"/><line x1="2.4" y1="-4.3" x2="2.4" y2="4.3" stroke="#000" stroke-width="1.0"/></g>
<ellipse cx="0" cy="0" rx="5.4" ry="6.0" transform="translate(484.6 380.2) rotate(-35)" fill="#fff" stroke="#000" stroke-width="1.92"/>
<polygon points="482.2,378.2 485,376.8 487.4,378.6 487.2,381.8 484.4,383.4 481.9,381.4" fill="#222" stroke="#000" stroke-width="1"/>
<polyline points="462.6,361.3 468,365.5" fill="none" stroke="#000" stroke-width="0.96"/>
<line x1="490" y1="378.2" x2="503" y2="378.2" stroke="#000" stroke-width="1.32"/>
<text x="512.1" y="382.0" text-anchor="middle" class="lb">25</text>
<g class="wm"><text x="0" y="0" transform="translate(379.8 -17.1) rotate(-29.5)">motod.ru</text><text x="0" y="0" transform="translate(443.3 -10.0) rotate(-29.5)">motod.ru</text><text x="0" y="0" transform="translate(506.8 -2.8) rotate(-29.5)">motod.ru</text><text x="0" y="0" transform="translate(570.3 4.3) rotate(-29.5)">motod.ru</text><text x="0" y="0" transform="translate(633.8 11.5) rotate(-29.5)">motod.ru</text><text x="0" y="0" transform="translate(697.3 18.7) rotate(-29.5)">motod.ru</text><text x="0" y="0" transform="translate(760.8 25.8) rotate(-29.5)">motod.ru</text><text x="0" y="0" transform="translate(-90.4 -8.6) rotate(-29.5)">motod.ru</text><text x="0" y="0" transform="translate(-26.9 -1.4) rotate(-29.5)">motod.ru</text><text x="0" y="0" transform="translate(36.6 5.7) rotate(-29.5)">motod.ru</text><text x="0" y="0" transform="translate(100.1 12.9) rotate(-29.5)">motod.ru</text><text x="0" y="0" transform="translate(163.6 20.1) rotate(-29.5)">motod.ru</text><text x="0" y="0" transform="translate(227.1 27.2) rotate(-29.5)">motod.ru</text><text x="0" y="0" transform="translate(290.6 34.4) rotate(-29.5)">motod.ru</text><text x="0" y="0" transform="translate(354.1 41.5) rotate(-29.5)">motod.ru</text><text x="0" y="0" transform="translate(417.6 48.7) rotate(-29.5)">motod.ru</text><text x="0" y="0" transform="translate(481.1 55.9) rotate(-29.5)">motod.ru</text><text x="0" y="0" transform="translate(544.6 63.0) rotate(-29.5)">motod.ru</text><text x="0" y="0" transform="translate(608.1 70.2) rotate(-29.5)">motod.ru</text><text x="0" y="0" transform="translate(671.6 77.3) rotate(-29.5)">motod.ru</text><text x="0" y="0" transform="translate(735.1 84.5) rotate(-29.5)">motod.ru</text><text x="0" y="0" transform="translate(-52.5 57.2) rotate(-29.5)">motod.ru</text><text x="0" y="0" transform="translate(11.0 64.4) rotate(-29.5)">motod.ru</text><text x="0" y="0" transform="translate(74.5 71.6) rotate(-29.5)">motod.ru</text><text x="0" y="0" transform="translate(138.0 78.7) rotate(-29.5)">motod.ru</text><text x="0" y="0" transform="translate(201.5 85.9) rotate(-29.5)">motod.ru</text><text x="0" y="0" transform="translate(265.0 93.0) rotate(-29.5)">motod.ru</text><text x="0" y="0" transform="translate(328.5 100.2) rotate(-29.5)">motod.ru</text><text x="0" y="0" transform="translate(392.0 107.4) rotate(-29.5)">motod.ru</text><text x="0" y="0" transform="translate(455.5 114.5) rotate(-29.5)">motod.ru</text><text x="0" y="0" transform="translate(519.0 121.7) rotate(-29.5)">motod.ru</text><text x="0" y="0" transform="translate(582.5 128.8) rotate(-29.5)">motod.ru</text><text x="0" y="0" transform="translate(646.0 136.0) rotate(-29.5)">motod.ru</text><text x="0" y="0" transform="translate(709.5 143.2) rotate(-29.5)">motod.ru</text><text x="0" y="0" transform="translate(773.0 150.3) rotate(-29.5)">motod.ru</text><text x="0" y="0" transform="translate(-78.1 115.9) rotate(-29.5)">motod.ru</text><text x="0" y="0" transform="translate(-14.6 123.1) rotate(-29.5)">motod.ru</text><text x="0" y="0" transform="translate(48.9 130.2) rotate(-29.5)">motod.ru</text><text x="0" y="0" transform="translate(112.4 137.4) rotate(-29.5)">motod.ru</text><text x="0" y="0" transform="translate(175.9 144.6) rotate(-29.5)">motod.ru</text><text x="0" y="0" transform="translate(239.4 151.7) rotate(-29.5)">motod.ru</text><text x="0" y="0" transform="translate(302.9 158.9) rotate(-29.5)">motod.ru</text><text x="0" y="0" transform="translate(366.4 166.0) rotate(-29.5)">motod.ru</text><text x="0" y="0" transform="translate(429.9 173.2) rotate(-29.5)">motod.ru</text><text x="0" y="0" transform="translate(493.4 180.4) rotate(-29.5)">motod.ru</text><text x="0" y="0" transform="translate(556.9 187.5) rotate(-29.5)">motod.ru</text><text x="0" y="0" transform="translate(620.4 194.7) rotate(-29.5)">motod.ru</text><text x="0" y="0" transform="translate(683.9 201.8) rotate(-29.5)">motod.ru</text><text x="0" y="0" transform="translate(747.4 209.0) rotate(-29.5)">motod.ru</text><text x="0" y="0" transform="translate(-40.3 181.7) rotate(-29.5)">motod.ru</text><text x="0" y="0" transform="translate(23.2 188.9) rotate(-29.5)">motod.ru</text><text x="0" y="0" transform="translate(86.7 196.1) rotate(-29.5)">motod.ru</text><text x="0" y="0" transform="translate(150.2 203.2) rotate(-29.5)">motod.ru</text><text x="0" y="0" transform="translate(213.7 210.4) rotate(-29.5)">motod.ru</text><text x="0" y="0" transform="translate(277.2 217.5) rotate(-29.5)">motod.ru</text><text x="0" y="0" transform="translate(340.7 224.7) rotate(-29.5)">motod.ru</text><text x="0" y="0" transform="translate(404.2 231.9) rotate(-29.5)">motod.ru</text><text x="0" y="0" transform="translate(467.7 239.0) rotate(-29.5)">motod.ru</text><text x="0" y="0" transform="translate(531.2 246.2) rotate(-29.5)">motod.ru</text><text x="0" y="0" transform="translate(594.7 253.3) rotate(-29.5)">motod.ru</text><text x="0" y="0" transform="translate(658.2 260.5) rotate(-29.5)">motod.ru</text><text x="0" y="0" transform="translate(721.7 267.7) rotate(-29.5)">motod.ru</text><text x="0" y="0" transform="translate(785.2 274.8) rotate(-29.5)">motod.ru</text><text x="0" y="0" transform="translate(-65.9 240.4) rotate(-29.5)">motod.ru</text><text x="0" y="0" transform="translate(-2.4 247.6) rotate(-29.5)">motod.ru</text><text x="0" y="0" transform="translate(61.1 254.7) rotate(-29.5)">motod.ru</text><text x="0" y="0" transform="translate(124.6 261.9) rotate(-29.5)">motod.ru</text><text x="0" y="0" transform="translate(188.1 269.1) rotate(-29.5)">motod.ru</text><text x="0" y="0" transform="translate(251.6 276.2) rotate(-29.5)">motod.ru</text><text x="0" y="0" transform="translate(315.1 283.4) rotate(-29.5)">motod.ru</text><text x="0" y="0" transform="translate(378.6 290.5) rotate(-29.5)">motod.ru</text><text x="0" y="0" transform="translate(442.1 297.7) rotate(-29.5)">motod.ru</text><text x="0" y="0" transform="translate(505.6 304.9) rotate(-29.5)">motod.ru</text><text x="0" y="0" transform="translate(569.1 312.0) rotate(-29.5)">motod.ru</text><text x="0" y="0" transform="translate(632.6 319.2) rotate(-29.5)">motod.ru</text><text x="0" y="0" transform="translate(696.1 326.3) rotate(-29.5)">motod.ru</text><text x="0" y="0" transform="translate(759.6 333.5) rotate(-29.5)">motod.ru</text><text x="0" y="0" transform="translate(-91.6 299.1) rotate(-29.5)">motod.ru</text><text x="0" y="0" transform="translate(-28.1 306.2) rotate(-29.5)">motod.ru</text><text x="0" y="0" transform="translate(35.4 313.4) rotate(-29.5)">motod.ru</text><text x="0" y="0" transform="translate(98.9 320.6) rotate(-29.5)">motod.ru</text><text x="0" y="0" transform="translate(162.4 327.7) rotate(-29.5)">motod.ru</text><text x="0" y="0" transform="translate(225.9 334.9) rotate(-29.5)">motod.ru</text><text x="0" y="0" transform="translate(289.4 342.0) rotate(-29.5)">motod.ru</text><text x="0" y="0" transform="translate(352.9 349.2) rotate(-29.5)">motod.ru</text><text x="0" y="0" transform="translate(416.4 356.4) rotate(-29.5)">motod.ru</text><text x="0" y="0" transform="translate(479.9 363.5) rotate(-29.5)">motod.ru</text><text x="0" y="0" transform="translate(543.4 370.7) rotate(-29.5)">motod.ru</text><text x="0" y="0" transform="translate(606.9 377.8) rotate(-29.5)">motod.ru</text><text x="0" y="0" transform="translate(670.4 385.0) rotate(-29.5)">motod.ru</text><text x="0" y="0" transform="translate(733.9 392.2) rotate(-29.5)">motod.ru</text><text x="0" y="0" transform="translate(-53.7 364.9) rotate(-29.5)">motod.ru</text><text x="0" y="0" transform="translate(9.8 372.1) rotate(-29.5)">motod.ru</text><text x="0" y="0" transform="translate(73.3 379.2) rotate(-29.5)">motod.ru</text><text x="0" y="0" transform="translate(136.8 386.4) rotate(-29.5)">motod.ru</text><text x="0" y="0" transform="translate(200.3 393.5) rotate(-29.5)">motod.ru</text><text x="0" y="0" transform="translate(263.8 400.7) rotate(-29.5)">motod.ru</text><text x="0" y="0" transform="translate(327.3 407.9) rotate(-29.5)">motod.ru</text><text x="0" y="0" transform="translate(390.8 415.0) rotate(-29.5)">motod.ru</text><text x="0" y="0" transform="translate(454.3 422.2) rotate(-29.5)">motod.ru</text><text x="0" y="0" transform="translate(517.8 429.3) rotate(-29.5)">motod.ru</text><text x="0" y="0" transform="translate(581.3 436.5) rotate(-29.5)">motod.ru</text><text x="0" y="0" transform="translate(644.8 443.7) rotate(-29.5)">motod.ru</text><text x="0" y="0" transform="translate(708.3 450.8) rotate(-29.5)">motod.ru</text><text x="0" y="0" transform="translate(771.8 458.0) rotate(-29.5)">motod.ru</text><text x="0" y="0" transform="translate(-79.3 423.6) rotate(-29.5)">motod.ru</text><text x="0" y="0" transform="translate(-15.8 430.7) rotate(-29.5)">motod.ru</text><text x="0" y="0" transform="translate(47.7 437.9) rotate(-29.5)">motod.ru</text><text x="0" y="0" transform="translate(111.2 445.1) rotate(-29.5)">motod.ru</text><text x="0" y="0" transform="translate(174.7 452.2) rotate(-29.5)">motod.ru</text><text x="0" y="0" transform="translate(238.2 459.4) rotate(-29.5)">motod.ru</text><text x="0" y="0" transform="translate(301.7 466.5) rotate(-29.5)">motod.ru</text><text x="0" y="0" transform="translate(365.2 473.7) rotate(-29.5)">motod.ru</text><text x="0" y="0" transform="translate(428.7 480.9) rotate(-29.5)">motod.ru</text><text x="0" y="0" transform="translate(492.2 488.0) rotate(-29.5)">motod.ru</text><text x="0" y="0" transform="translate(555.7 495.2) rotate(-29.5)">motod.ru</text><text x="0" y="0" transform="translate(619.2 502.3) rotate(-29.5)">motod.ru</text><text x="0" y="0" transform="translate(682.7 509.5) rotate(-29.5)">motod.ru</text><text x="0" y="0" transform="translate(746.2 516.7) rotate(-29.5)">motod.ru</text><text x="0" y="0" transform="translate(-41.5 489.4) rotate(-29.5)">motod.ru</text><text x="0" y="0" transform="translate(22.0 496.6) rotate(-29.5)">motod.ru</text><text x="0" y="0" transform="translate(85.5 503.7) rotate(-29.5)">motod.ru</text><text x="0" y="0" transform="translate(149.0 510.9) rotate(-29.5)">motod.ru</text><text x="0" y="0" transform="translate(212.5 518.0) rotate(-29.5)">motod.ru</text><text x="0" y="0" transform="translate(276.0 525.2) rotate(-29.5)">motod.ru</text><text x="0" y="0" transform="translate(339.5 532.4) rotate(-29.5)">motod.ru</text><text x="0" y="0" transform="translate(403.0 539.5) rotate(-29.5)">motod.ru</text><text x="0" y="0" transform="translate(466.5 546.7) rotate(-29.5)">motod.ru</text><text x="0" y="0" transform="translate(530.0 553.9) rotate(-29.5)">motod.ru</text><text x="0" y="0" transform="translate(593.5 561.0) rotate(-29.5)">motod.ru</text><text x="0" y="0" transform="translate(657.0 568.2) rotate(-29.5)">motod.ru</text><text x="0" y="0" transform="translate(720.5 575.3) rotate(-29.5)">motod.ru</text><text x="0" y="0" transform="translate(784.0 582.5) rotate(-29.5)">motod.ru</text><text x="0" y="0" transform="translate(-67.1 548.1) rotate(-29.5)">motod.ru</text><text x="0" y="0" transform="translate(-3.6 555.2) rotate(-29.5)">motod.ru</text><text x="0" y="0" transform="translate(59.9 562.4) rotate(-29.5)">motod.ru</text><text x="0" y="0" transform="translate(123.4 569.6) rotate(-29.5)">motod.ru</text><text x="0" y="0" transform="translate(186.9 576.7) rotate(-29.5)">motod.ru</text><text x="0" y="0" transform="translate(250.4 583.9) rotate(-29.5)">motod.ru</text><text x="0" y="0" transform="translate(313.9 591.0) rotate(-29.5)">motod.ru</text><text x="0" y="0" transform="translate(377.4 598.2) rotate(-29.5)">motod.ru</text><text x="0" y="0" transform="translate(440.9 605.4) rotate(-29.5)">motod.ru</text><text x="0" y="0" transform="translate(504.4 612.5) rotate(-29.5)">motod.ru</text><text x="0" y="0" transform="translate(567.9 619.7) rotate(-29.5)">motod.ru</text><text x="0" y="0" transform="translate(631.4 626.8) rotate(-29.5)">motod.ru</text><text x="0" y="0" transform="translate(694.9 634.0) rotate(-29.5)">motod.ru</text><text x="0" y="0" transform="translate(758.4 641.2) rotate(-29.5)">motod.ru</text><text x="0" y="0" transform="translate(-29.3 613.9) rotate(-29.5)">motod.ru</text><text x="0" y="0" transform="translate(34.2 621.1) rotate(-29.5)">motod.ru</text><text x="0" y="0" transform="translate(97.7 628.2) rotate(-29.5)">motod.ru</text><text x="0" y="0" transform="translate(161.2 635.4) rotate(-29.5)">motod.ru</text><text x="0" y="0" transform="translate(224.7 642.6) rotate(-29.5)">motod.ru</text><text x="0" y="0" transform="translate(288.2 649.7) rotate(-29.5)">motod.ru</text></g>
</svg>
</body></html>
